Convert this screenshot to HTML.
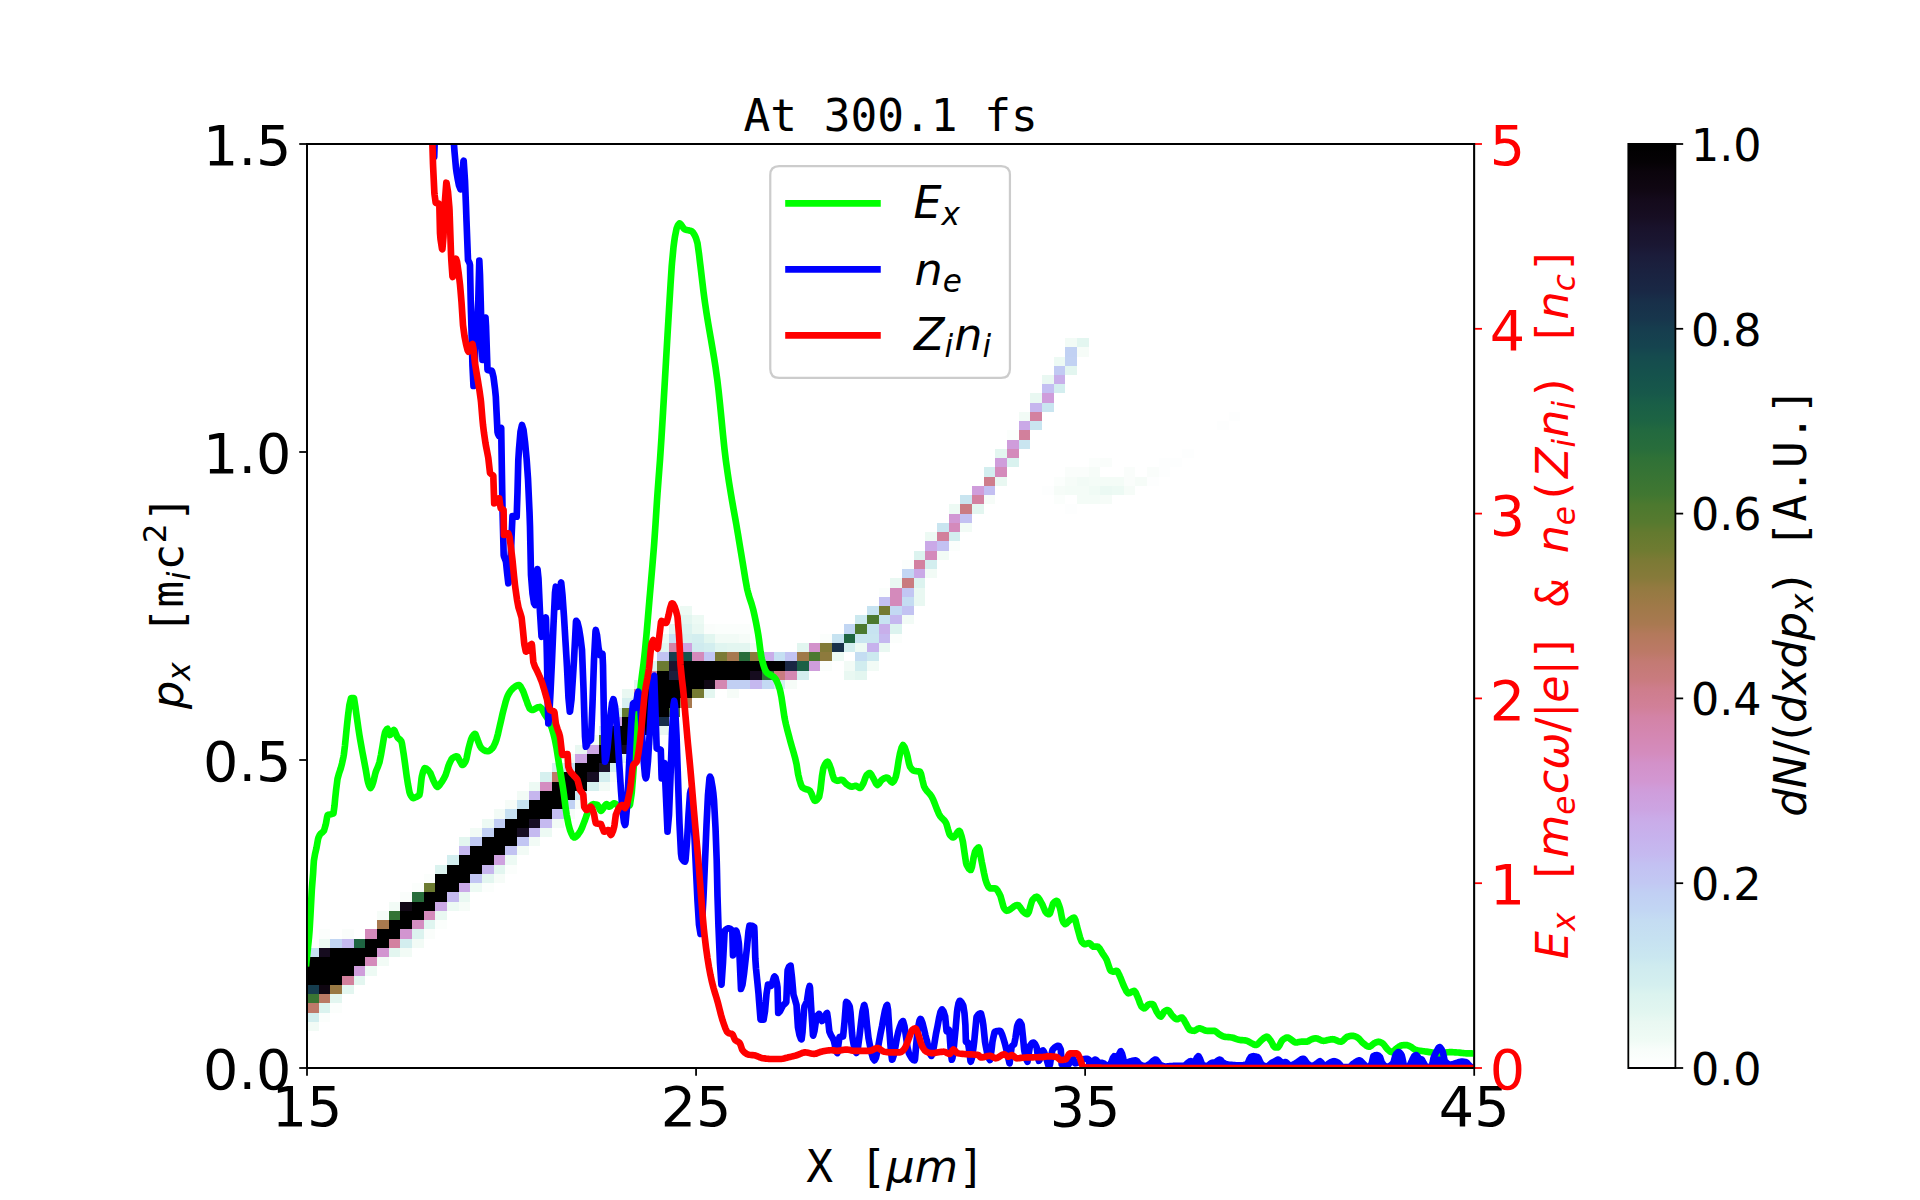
<!DOCTYPE html>
<html><head><meta charset="utf-8"><title>At 300.1 fs</title>
<style>html,body{margin:0;padding:0;background:#fff;}svg{display:block;}body{width:1920px;height:1200px;overflow:hidden;font-family:"DejaVu Sans","Liberation Sans",sans-serif;}</style>
</head><body>
<svg width="1920" height="1200" viewBox="0 0 864 540">
 <defs>
  <style type="text/css">*{stroke-linejoin: round; stroke-linecap: butt}</style>
 </defs>
 <g id="figure_1">
  <g id="patch_1">
   <path d="M 0 540 
L 864 540 
L 864 0 
L 0 0 
z
" style="fill: #ffffff"/>
  </g>
  <g id="axes_1">
   <g id="patch_2">
    <path d="M 138.15 480.6 
L 663.39 480.6 
L 663.39 64.8 
L 138.15 64.8 
z
" style="fill: #ffffff"/>
   </g>
   <g id="heatmap" transform="scale(0.45)" shape-rendering="crispEdges">
<rect x="307" y="1022" width="12" height="9" fill="#f2fbf6"/>
<rect x="307" y="1013" width="12" height="9" fill="#d3eeef"/>
<rect x="319" y="1013" width="11" height="9" fill="#fbfefc"/>
<rect x="307" y="1003" width="12" height="10" fill="#be796a"/>
<rect x="319" y="1003" width="11" height="10" fill="#dbf3ef"/>
<rect x="330" y="1003" width="12" height="10" fill="#fbfefc"/>
<rect x="307" y="994" width="12" height="9" fill="#3a7533"/>
<rect x="319" y="994" width="11" height="9" fill="#b97964"/>
<rect x="330" y="994" width="12" height="9" fill="#e3f6f0"/>
<rect x="307" y="985" width="12" height="9" fill="#163d4e"/>
<rect x="319" y="985" width="11" height="9" fill="#0f0611"/>
<rect x="330" y="985" width="12" height="9" fill="#997944"/>
<rect x="342" y="985" width="12" height="9" fill="#e3f6f0"/>
<rect x="307" y="976" width="35" height="9" fill="#000000"/>
<rect x="342" y="976" width="12" height="9" fill="#d2809c"/>
<rect x="354" y="976" width="11" height="9" fill="#e3f6f0"/>
<rect x="307" y="966" width="47" height="10" fill="#000000"/>
<rect x="354" y="966" width="11" height="10" fill="#cf9ddb"/>
<rect x="365" y="966" width="12" height="10" fill="#edfaf4"/>
<rect x="307" y="957" width="58" height="9" fill="#000000"/>
<rect x="365" y="957" width="12" height="9" fill="#d48abb"/>
<rect x="377" y="957" width="12" height="9" fill="#f2fbf6"/>
<rect x="307" y="948" width="12" height="9" fill="#c6e0f1"/>
<rect x="319" y="948" width="11" height="9" fill="#160c1f"/>
<rect x="330" y="948" width="47" height="9" fill="#000000"/>
<rect x="377" y="948" width="12" height="9" fill="#d295d0"/>
<rect x="389" y="948" width="11" height="9" fill="#e3f6f0"/>
<rect x="400" y="948" width="12" height="9" fill="#f2fbf6"/>
<rect x="319" y="939" width="11" height="9" fill="#edfaf4"/>
<rect x="330" y="939" width="12" height="9" fill="#c2d6f3"/>
<rect x="342" y="939" width="12" height="9" fill="#c5baf0"/>
<rect x="354" y="939" width="11" height="9" fill="#1e6542"/>
<rect x="365" y="939" width="24" height="9" fill="#000000"/>
<rect x="389" y="939" width="11" height="9" fill="#d381a0"/>
<rect x="400" y="939" width="12" height="9" fill="#d3eeef"/>
<rect x="412" y="939" width="12" height="9" fill="#f2fbf6"/>
<rect x="319" y="929" width="11" height="10" fill="#fbfefc"/>
<rect x="342" y="929" width="12" height="10" fill="#fafdfb"/>
<rect x="365" y="929" width="12" height="10" fill="#d48abb"/>
<rect x="377" y="929" width="23" height="10" fill="#000000"/>
<rect x="400" y="929" width="12" height="10" fill="#d295d0"/>
<rect x="412" y="929" width="12" height="10" fill="#dcf3ef"/>
<rect x="424" y="929" width="11" height="10" fill="#fafdfb"/>
<rect x="377" y="920" width="12" height="9" fill="#a7794f"/>
<rect x="389" y="920" width="23" height="9" fill="#000000"/>
<rect x="412" y="920" width="12" height="9" fill="#d48dc1"/>
<rect x="424" y="920" width="11" height="9" fill="#e0f5f0"/>
<rect x="435" y="920" width="12" height="9" fill="#fbfefc"/>
<rect x="377" y="911" width="12" height="9" fill="#f6fcf8"/>
<rect x="389" y="911" width="11" height="9" fill="#337335"/>
<rect x="400" y="911" width="24" height="9" fill="#000000"/>
<rect x="424" y="911" width="11" height="9" fill="#d48abb"/>
<rect x="435" y="911" width="12" height="9" fill="#e9f8f2"/>
<rect x="389" y="902" width="11" height="9" fill="#f2fbf6"/>
<rect x="400" y="902" width="12" height="9" fill="#110815"/>
<rect x="412" y="902" width="23" height="9" fill="#000000"/>
<rect x="435" y="902" width="12" height="9" fill="#cba8e5"/>
<rect x="447" y="902" width="12" height="9" fill="#edfaf4"/>
<rect x="459" y="902" width="11" height="9" fill="#f6fcf8"/>
<rect x="400" y="892" width="12" height="10" fill="#fafdfb"/>
<rect x="412" y="892" width="12" height="10" fill="#286d3b"/>
<rect x="424" y="892" width="23" height="10" fill="#000000"/>
<rect x="447" y="892" width="12" height="10" fill="#c5baf0"/>
<rect x="459" y="892" width="11" height="10" fill="#e9f8f2"/>
<rect x="412" y="883" width="12" height="9" fill="#fbfefc"/>
<rect x="424" y="883" width="11" height="9" fill="#6c7b31"/>
<rect x="435" y="883" width="24" height="9" fill="#000000"/>
<rect x="459" y="883" width="11" height="9" fill="#caa9e7"/>
<rect x="470" y="883" width="12" height="9" fill="#edfaf4"/>
<rect x="482" y="883" width="12" height="9" fill="#fbfefc"/>
<rect x="424" y="874" width="11" height="9" fill="#fbfefc"/>
<rect x="435" y="874" width="35" height="9" fill="#000000"/>
<rect x="470" y="874" width="12" height="9" fill="#c2c6f3"/>
<rect x="482" y="874" width="12" height="9" fill="#e3f6f0"/>
<rect x="494" y="874" width="11" height="9" fill="#f6fcf8"/>
<rect x="435" y="865" width="12" height="9" fill="#dbf3ef"/>
<rect x="447" y="865" width="35" height="9" fill="#000000"/>
<rect x="482" y="865" width="12" height="9" fill="#c6b6ee"/>
<rect x="494" y="865" width="11" height="9" fill="#e3f6f0"/>
<rect x="505" y="865" width="12" height="9" fill="#fbfefc"/>
<rect x="447" y="855" width="12" height="10" fill="#d3eeef"/>
<rect x="459" y="855" width="35" height="10" fill="#000000"/>
<rect x="494" y="855" width="11" height="10" fill="#cea1df"/>
<rect x="505" y="855" width="12" height="10" fill="#edfaf4"/>
<rect x="459" y="846" width="11" height="9" fill="#c5b8ef"/>
<rect x="470" y="846" width="35" height="9" fill="#000000"/>
<rect x="505" y="846" width="12" height="9" fill="#c2c3f2"/>
<rect x="517" y="846" width="12" height="9" fill="#f2fbf6"/>
<rect x="459" y="837" width="11" height="9" fill="#e3f6f0"/>
<rect x="470" y="837" width="12" height="9" fill="#c1caf3"/>
<rect x="482" y="837" width="35" height="9" fill="#000000"/>
<rect x="517" y="837" width="12" height="9" fill="#c2c6f3"/>
<rect x="529" y="837" width="11" height="9" fill="#f2fbf6"/>
<rect x="470" y="828" width="12" height="9" fill="#f2fbf6"/>
<rect x="482" y="828" width="12" height="9" fill="#c1cff3"/>
<rect x="494" y="828" width="23" height="9" fill="#000000"/>
<rect x="517" y="828" width="12" height="9" fill="#170e23"/>
<rect x="529" y="828" width="11" height="9" fill="#c5baf0"/>
<rect x="540" y="828" width="12" height="9" fill="#edfaf4"/>
<rect x="482" y="819" width="12" height="9" fill="#edfaf4"/>
<rect x="494" y="819" width="11" height="9" fill="#c1cdf3"/>
<rect x="505" y="819" width="24" height="9" fill="#000000"/>
<rect x="529" y="819" width="11" height="9" fill="#170e23"/>
<rect x="540" y="819" width="12" height="9" fill="#c5baf0"/>
<rect x="552" y="819" width="12" height="9" fill="#f2fbf6"/>
<rect x="494" y="809" width="11" height="10" fill="#f2fbf6"/>
<rect x="505" y="809" width="12" height="10" fill="#c6e0f1"/>
<rect x="517" y="809" width="35" height="10" fill="#000000"/>
<rect x="552" y="809" width="12" height="10" fill="#c4bdf1"/>
<rect x="564" y="809" width="11" height="10" fill="#f6fcf8"/>
<rect x="505" y="800" width="12" height="9" fill="#f6fcf8"/>
<rect x="517" y="800" width="12" height="9" fill="#c7e3f1"/>
<rect x="529" y="800" width="35" height="9" fill="#000000"/>
<rect x="564" y="800" width="11" height="9" fill="#c1d1f3"/>
<rect x="575" y="800" width="12" height="9" fill="#f6fcf8"/>
<rect x="517" y="791" width="12" height="9" fill="#f2fbf6"/>
<rect x="529" y="791" width="11" height="9" fill="#c6b6ee"/>
<rect x="540" y="791" width="35" height="9" fill="#000000"/>
<rect x="575" y="791" width="12" height="9" fill="#c9e5f0"/>
<rect x="529" y="782" width="11" height="9" fill="#edfaf4"/>
<rect x="540" y="782" width="12" height="9" fill="#d48dc1"/>
<rect x="552" y="782" width="35" height="9" fill="#000000"/>
<rect x="587" y="782" width="12" height="9" fill="#d6f0ef"/>
<rect x="599" y="782" width="11" height="9" fill="#f2fbf6"/>
<rect x="540" y="772" width="12" height="10" fill="#d6f0ef"/>
<rect x="552" y="772" width="12" height="10" fill="#be796a"/>
<rect x="564" y="772" width="23" height="10" fill="#000000"/>
<rect x="587" y="772" width="12" height="10" fill="#170e23"/>
<rect x="599" y="772" width="11" height="10" fill="#d3eeef"/>
<rect x="610" y="772" width="12" height="10" fill="#f6fcf8"/>
<rect x="552" y="763" width="12" height="9" fill="#d6f0ef"/>
<rect x="564" y="763" width="11" height="9" fill="#c5dff2"/>
<rect x="575" y="763" width="24" height="9" fill="#000000"/>
<rect x="599" y="763" width="11" height="9" fill="#19122b"/>
<rect x="610" y="763" width="12" height="9" fill="#d6f0ef"/>
<rect x="564" y="754" width="11" height="9" fill="#f2fbf6"/>
<rect x="575" y="754" width="12" height="9" fill="#cca4e2"/>
<rect x="587" y="754" width="35" height="9" fill="#000000"/>
<rect x="622" y="754" width="12" height="9" fill="#e3f6f0"/>
<rect x="575" y="745" width="12" height="9" fill="#e9f8f2"/>
<rect x="587" y="745" width="12" height="9" fill="#cca6e4"/>
<rect x="599" y="745" width="23" height="9" fill="#000000"/>
<rect x="622" y="745" width="12" height="9" fill="#160c1f"/>
<rect x="634" y="745" width="11" height="9" fill="#e3f6f0"/>
<rect x="587" y="735" width="12" height="10" fill="#f2fbf6"/>
<rect x="599" y="735" width="11" height="10" fill="#54792f"/>
<rect x="610" y="735" width="35" height="10" fill="#000000"/>
<rect x="645" y="735" width="12" height="10" fill="#e9f8f2"/>
<rect x="599" y="726" width="11" height="9" fill="#d3eeef"/>
<rect x="610" y="726" width="47" height="9" fill="#000000"/>
<rect x="657" y="726" width="12" height="9" fill="#e9f8f2"/>
<rect x="610" y="717" width="12" height="9" fill="#cea1df"/>
<rect x="622" y="717" width="35" height="9" fill="#000000"/>
<rect x="657" y="717" width="12" height="9" fill="#182f49"/>
<rect x="610" y="708" width="12" height="9" fill="#d6f0ef"/>
<rect x="622" y="708" width="12" height="9" fill="#637a2f"/>
<rect x="634" y="708" width="35" height="9" fill="#000000"/>
<rect x="669" y="708" width="11" height="9" fill="#54792f"/>
<rect x="622" y="698" width="12" height="10" fill="#d6f0ef"/>
<rect x="634" y="698" width="11" height="10" fill="#cf9ddb"/>
<rect x="645" y="698" width="35" height="10" fill="#000000"/>
<rect x="680" y="698" width="12" height="10" fill="#a7794f"/>
<rect x="622" y="689" width="12" height="9" fill="#e9f8f2"/>
<rect x="634" y="689" width="11" height="9" fill="#d382a3"/>
<rect x="645" y="689" width="47" height="9" fill="#000000"/>
<rect x="692" y="689" width="12" height="9" fill="#757b33"/>
<rect x="704" y="689" width="11" height="9" fill="#e3f6f0"/>
<rect x="727" y="689" width="12" height="9" fill="#f6fcf8"/>
<rect x="634" y="680" width="11" height="9" fill="#e0f5f0"/>
<rect x="645" y="680" width="12" height="9" fill="#163d4e"/>
<rect x="657" y="680" width="47" height="9" fill="#000000"/>
<rect x="704" y="680" width="11" height="9" fill="#110815"/>
<rect x="715" y="680" width="12" height="9" fill="#d487b2"/>
<rect x="727" y="680" width="23" height="9" fill="#c1cff3"/>
<rect x="750" y="680" width="12" height="9" fill="#c5b8ef"/>
<rect x="762" y="680" width="12" height="9" fill="#c3d9f3"/>
<rect x="774" y="680" width="11" height="9" fill="#d3eeef"/>
<rect x="785" y="680" width="12" height="9" fill="#f6fcf8"/>
<rect x="645" y="671" width="12" height="9" fill="#d382a3"/>
<rect x="657" y="671" width="12" height="9" fill="#000000"/>
<rect x="669" y="671" width="11" height="9" fill="#1b1f3d"/>
<rect x="680" y="671" width="70" height="9" fill="#000000"/>
<rect x="750" y="671" width="12" height="9" fill="#160c1f"/>
<rect x="762" y="671" width="12" height="9" fill="#2f7137"/>
<rect x="774" y="671" width="11" height="9" fill="#c97b7f"/>
<rect x="785" y="671" width="12" height="9" fill="#d487b2"/>
<rect x="797" y="671" width="12" height="9" fill="#d3eeef"/>
<rect x="844" y="671" width="11" height="9" fill="#e9f8f2"/>
<rect x="855" y="671" width="12" height="9" fill="#e3f6f0"/>
<rect x="645" y="661" width="12" height="10" fill="#dbf3ef"/>
<rect x="657" y="661" width="12" height="10" fill="#6c7b31"/>
<rect x="669" y="661" width="11" height="10" fill="#1a142f"/>
<rect x="680" y="661" width="105" height="10" fill="#000000"/>
<rect x="785" y="661" width="12" height="10" fill="#1a2744"/>
<rect x="797" y="661" width="12" height="10" fill="#1a6046"/>
<rect x="809" y="661" width="11" height="10" fill="#cf9ddb"/>
<rect x="820" y="661" width="12" height="10" fill="#fafdfb"/>
<rect x="844" y="661" width="11" height="10" fill="#f2fbf6"/>
<rect x="855" y="661" width="12" height="10" fill="#d1edef"/>
<rect x="867" y="661" width="12" height="10" fill="#f2fbf6"/>
<rect x="657" y="652" width="12" height="9" fill="#c2c3f2"/>
<rect x="669" y="652" width="11" height="9" fill="#163d4e"/>
<rect x="680" y="652" width="12" height="9" fill="#15524c"/>
<rect x="692" y="652" width="12" height="9" fill="#d48abb"/>
<rect x="704" y="652" width="11" height="9" fill="#c2c6f3"/>
<rect x="715" y="652" width="12" height="9" fill="#7b7a35"/>
<rect x="727" y="652" width="12" height="9" fill="#a7794f"/>
<rect x="739" y="652" width="11" height="9" fill="#286d3b"/>
<rect x="750" y="652" width="12" height="9" fill="#8a7a3b"/>
<rect x="762" y="652" width="12" height="9" fill="#c9ade9"/>
<rect x="774" y="652" width="11" height="9" fill="#c5dff2"/>
<rect x="785" y="652" width="12" height="9" fill="#c2c3f2"/>
<rect x="797" y="652" width="12" height="9" fill="#9f7948"/>
<rect x="809" y="652" width="11" height="9" fill="#4c792f"/>
<rect x="820" y="652" width="12" height="9" fill="#8d7a3d"/>
<rect x="832" y="652" width="12" height="9" fill="#edfaf4"/>
<rect x="855" y="652" width="12" height="9" fill="#c4ddf2"/>
<rect x="867" y="652" width="12" height="9" fill="#cce9ef"/>
<rect x="657" y="643" width="12" height="9" fill="#e0f5f0"/>
<rect x="669" y="643" width="11" height="9" fill="#d383a6"/>
<rect x="680" y="643" width="12" height="9" fill="#cea1df"/>
<rect x="692" y="643" width="12" height="9" fill="#cfebef"/>
<rect x="704" y="643" width="11" height="9" fill="#d3eeef"/>
<rect x="715" y="643" width="12" height="9" fill="#e0f5f0"/>
<rect x="727" y="643" width="23" height="9" fill="#e3f6f0"/>
<rect x="750" y="643" width="12" height="9" fill="#f2fbf6"/>
<rect x="797" y="643" width="12" height="9" fill="#e2f6f0"/>
<rect x="809" y="643" width="11" height="9" fill="#d392cb"/>
<rect x="820" y="643" width="12" height="9" fill="#817a37"/>
<rect x="832" y="643" width="12" height="9" fill="#18314a"/>
<rect x="844" y="643" width="11" height="9" fill="#d3eeef"/>
<rect x="855" y="643" width="12" height="9" fill="#edfaf4"/>
<rect x="867" y="643" width="12" height="9" fill="#c7b2ed"/>
<rect x="879" y="643" width="11" height="9" fill="#e9f8f2"/>
<rect x="657" y="634" width="12" height="9" fill="#edfaf4"/>
<rect x="669" y="634" width="11" height="9" fill="#c5dff2"/>
<rect x="680" y="634" width="12" height="9" fill="#d6f0ef"/>
<rect x="692" y="634" width="12" height="9" fill="#d3eeef"/>
<rect x="704" y="634" width="11" height="9" fill="#e2f6f0"/>
<rect x="715" y="634" width="24" height="9" fill="#f2fbf6"/>
<rect x="739" y="634" width="11" height="9" fill="#f6fcf8"/>
<rect x="820" y="634" width="12" height="9" fill="#fbfefc"/>
<rect x="832" y="634" width="12" height="9" fill="#c7e3f1"/>
<rect x="844" y="634" width="11" height="9" fill="#1e6542"/>
<rect x="855" y="634" width="24" height="9" fill="#c9e5f0"/>
<rect x="879" y="634" width="11" height="9" fill="#c5b8ef"/>
<rect x="890" y="634" width="12" height="9" fill="#fbfefc"/>
<rect x="669" y="624" width="11" height="10" fill="#e0f5f0"/>
<rect x="680" y="624" width="12" height="10" fill="#dbf3ef"/>
<rect x="692" y="624" width="12" height="10" fill="#e9f8f2"/>
<rect x="704" y="624" width="11" height="10" fill="#fafdfb"/>
<rect x="715" y="624" width="35" height="10" fill="#fbfefc"/>
<rect x="844" y="624" width="11" height="10" fill="#c2d6f3"/>
<rect x="855" y="624" width="12" height="10" fill="#4c792f"/>
<rect x="867" y="624" width="12" height="10" fill="#c7e3f1"/>
<rect x="879" y="624" width="11" height="10" fill="#c8afea"/>
<rect x="890" y="624" width="12" height="10" fill="#dcf3ef"/>
<rect x="680" y="615" width="12" height="9" fill="#e3f6f0"/>
<rect x="692" y="615" width="12" height="9" fill="#edfaf4"/>
<rect x="855" y="615" width="12" height="9" fill="#cce9ef"/>
<rect x="867" y="615" width="12" height="9" fill="#4c792f"/>
<rect x="879" y="615" width="11" height="9" fill="#c7e3f1"/>
<rect x="890" y="615" width="12" height="9" fill="#c5b8ef"/>
<rect x="902" y="615" width="12" height="9" fill="#f2fbf6"/>
<rect x="680" y="606" width="12" height="9" fill="#edfaf4"/>
<rect x="867" y="606" width="12" height="9" fill="#c7e3f1"/>
<rect x="879" y="606" width="11" height="9" fill="#757b33"/>
<rect x="890" y="606" width="12" height="9" fill="#c3d9f3"/>
<rect x="902" y="606" width="12" height="9" fill="#c2c3f2"/>
<rect x="879" y="597" width="11" height="9" fill="#c3c1f2"/>
<rect x="890" y="597" width="12" height="9" fill="#d48abb"/>
<rect x="902" y="597" width="12" height="9" fill="#c4dcf2"/>
<rect x="914" y="597" width="11" height="9" fill="#e9f8f2"/>
<rect x="879" y="588" width="11" height="9" fill="#fbfefc"/>
<rect x="890" y="588" width="12" height="9" fill="#d48abb"/>
<rect x="902" y="588" width="12" height="9" fill="#c2c6f3"/>
<rect x="914" y="588" width="11" height="9" fill="#e9f8f2"/>
<rect x="890" y="578" width="12" height="10" fill="#e9f8f2"/>
<rect x="902" y="578" width="12" height="10" fill="#c97b7f"/>
<rect x="914" y="578" width="11" height="10" fill="#dcf3ef"/>
<rect x="902" y="569" width="12" height="9" fill="#c2d6f3"/>
<rect x="914" y="569" width="11" height="9" fill="#caa9e7"/>
<rect x="925" y="569" width="12" height="9" fill="#f2fbf6"/>
<rect x="902" y="560" width="12" height="9" fill="#fbfefc"/>
<rect x="914" y="560" width="11" height="9" fill="#d381a0"/>
<rect x="925" y="560" width="12" height="9" fill="#d3eeef"/>
<rect x="914" y="551" width="11" height="9" fill="#dcf3ef"/>
<rect x="925" y="551" width="12" height="9" fill="#d48abb"/>
<rect x="937" y="551" width="12" height="9" fill="#f2fbf6"/>
<rect x="925" y="541" width="12" height="10" fill="#caa9e7"/>
<rect x="937" y="541" width="12" height="10" fill="#c3c1f2"/>
<rect x="949" y="541" width="11" height="10" fill="#fbfefc"/>
<rect x="925" y="532" width="12" height="9" fill="#edfaf4"/>
<rect x="937" y="532" width="12" height="9" fill="#d2809c"/>
<rect x="949" y="532" width="11" height="9" fill="#d3eeef"/>
<rect x="937" y="523" width="12" height="9" fill="#c9e5f0"/>
<rect x="949" y="523" width="11" height="9" fill="#d48abb"/>
<rect x="960" y="523" width="12" height="9" fill="#f2fbf6"/>
<rect x="949" y="514" width="11" height="9" fill="#d198d4"/>
<rect x="960" y="514" width="12" height="9" fill="#c3c1f2"/>
<rect x="949" y="504" width="11" height="10" fill="#edfaf4"/>
<rect x="960" y="504" width="12" height="10" fill="#ca7c83"/>
<rect x="972" y="504" width="12" height="10" fill="#e3f6f0"/>
<rect x="1065" y="504" width="12" height="10" fill="#fdfefe"/>
<rect x="960" y="495" width="12" height="9" fill="#c9e5f0"/>
<rect x="972" y="495" width="12" height="9" fill="#d381a0"/>
<rect x="984" y="495" width="11" height="9" fill="#f6fcf8"/>
<rect x="1054" y="495" width="11" height="9" fill="#fbfefc"/>
<rect x="1077" y="495" width="23" height="9" fill="#f4fcf7"/>
<rect x="1100" y="495" width="12" height="9" fill="#f6fcf8"/>
<rect x="972" y="486" width="12" height="9" fill="#cf9ddb"/>
<rect x="984" y="486" width="11" height="9" fill="#c3bff2"/>
<rect x="1042" y="486" width="12" height="9" fill="#fdfefe"/>
<rect x="1054" y="486" width="11" height="9" fill="#f6fcf8"/>
<rect x="1065" y="486" width="24" height="9" fill="#f4fcf7"/>
<rect x="1089" y="486" width="11" height="9" fill="#f0fbf5"/>
<rect x="1100" y="486" width="12" height="9" fill="#ebf9f3"/>
<rect x="1112" y="486" width="12" height="9" fill="#edfaf4"/>
<rect x="1124" y="486" width="11" height="9" fill="#f6fcf8"/>
<rect x="984" y="477" width="11" height="9" fill="#ce7d8c"/>
<rect x="995" y="477" width="12" height="9" fill="#e9f8f2"/>
<rect x="1054" y="477" width="11" height="9" fill="#fbfefc"/>
<rect x="1065" y="477" width="12" height="9" fill="#f6fcf8"/>
<rect x="1077" y="477" width="12" height="9" fill="#f2fbf6"/>
<rect x="1089" y="477" width="35" height="9" fill="#f4fcf7"/>
<rect x="1124" y="477" width="11" height="9" fill="#fafdfb"/>
<rect x="1135" y="477" width="12" height="9" fill="#f6fcf8"/>
<rect x="1147" y="477" width="12" height="9" fill="#fdfefe"/>
<rect x="984" y="467" width="11" height="10" fill="#d3eeef"/>
<rect x="995" y="467" width="12" height="10" fill="#d48abb"/>
<rect x="1065" y="467" width="24" height="10" fill="#fafdfb"/>
<rect x="1089" y="467" width="11" height="10" fill="#f6fcf8"/>
<rect x="1124" y="467" width="11" height="10" fill="#fafdfb"/>
<rect x="1147" y="467" width="12" height="10" fill="#fafdfb"/>
<rect x="1159" y="467" width="11" height="10" fill="#fdfefe"/>
<rect x="995" y="458" width="12" height="9" fill="#cf9ddb"/>
<rect x="1007" y="458" width="12" height="9" fill="#d9f2ef"/>
<rect x="1089" y="458" width="11" height="9" fill="#fbfefc"/>
<rect x="1100" y="458" width="12" height="9" fill="#fafdfb"/>
<rect x="1159" y="458" width="23" height="9" fill="#fdfefe"/>
<rect x="995" y="449" width="12" height="9" fill="#e3f6f0"/>
<rect x="1007" y="449" width="12" height="9" fill="#d48abb"/>
<rect x="1182" y="449" width="12" height="9" fill="#fdfefe"/>
<rect x="1007" y="440" width="12" height="9" fill="#cf9ddb"/>
<rect x="1019" y="440" width="11" height="9" fill="#c9e5f0"/>
<rect x="1007" y="430" width="12" height="10" fill="#fbfefc"/>
<rect x="1019" y="430" width="11" height="10" fill="#d2809c"/>
<rect x="1019" y="421" width="11" height="9" fill="#caa9e7"/>
<rect x="1030" y="421" width="12" height="9" fill="#c9e5f0"/>
<rect x="1217" y="421" width="12" height="9" fill="#fdfefe"/>
<rect x="1019" y="412" width="11" height="9" fill="#f2fbf6"/>
<rect x="1030" y="412" width="12" height="9" fill="#d381a0"/>
<rect x="1229" y="412" width="11" height="9" fill="#fdfefe"/>
<rect x="1030" y="403" width="12" height="9" fill="#c6b6ee"/>
<rect x="1042" y="403" width="12" height="9" fill="#c9e5f0"/>
<rect x="1030" y="393" width="12" height="10" fill="#e9f8f2"/>
<rect x="1042" y="393" width="12" height="10" fill="#cf9ddb"/>
<rect x="1042" y="384" width="12" height="9" fill="#c3bff2"/>
<rect x="1054" y="384" width="11" height="9" fill="#d3eeef"/>
<rect x="1042" y="375" width="12" height="9" fill="#e9f8f2"/>
<rect x="1054" y="375" width="11" height="9" fill="#c8afea"/>
<rect x="1054" y="366" width="11" height="9" fill="#c1caf3"/>
<rect x="1065" y="366" width="12" height="9" fill="#e3f6f0"/>
<rect x="1054" y="357" width="11" height="9" fill="#edfaf4"/>
<rect x="1065" y="357" width="12" height="9" fill="#c2d2f3"/>
<rect x="1065" y="347" width="12" height="10" fill="#c1d1f3"/>
<rect x="1077" y="347" width="12" height="10" fill="#f6fcf8"/>
<rect x="1065" y="338" width="12" height="9" fill="#f2fbf6"/>
<rect x="1077" y="338" width="12" height="9" fill="#e3f6f0"/>
</g>
<g id="matplotlib.axis_1">
    <g id="xtick_1">
     <g id="line2d_1">
      <defs>
       <path id="m85831173c3" d="M 0 0 
L 0 3.5 
" style="stroke: #000000; stroke-width: 0.8"/>
      </defs>
      <g>
       <use href="#m85831173c3" x="138.15" y="480.6" style="stroke: #000000; stroke-width: 0.8"/>
      </g>
     </g>
     <g id="text_1">
      <text style="font-size: 25px; font-family: 'DejaVu Sans', sans-serif; text-anchor: middle" x="138.15" y="506.60" transform="rotate(-0 138.15 506.60)">15</text>
     </g>
    </g>
    <g id="xtick_2">
     <g id="line2d_2">
      <g>
       <use href="#m85831173c3" x="313.23" y="480.6" style="stroke: #000000; stroke-width: 0.8"/>
      </g>
     </g>
     <g id="text_2">
      <text style="font-size: 25px; font-family: 'DejaVu Sans', sans-serif; text-anchor: middle" x="313.23" y="506.60" transform="rotate(-0 313.23 506.60)">25</text>
     </g>
    </g>
    <g id="xtick_3">
     <g id="line2d_3">
      <g>
       <use href="#m85831173c3" x="488.31" y="480.6" style="stroke: #000000; stroke-width: 0.8"/>
      </g>
     </g>
     <g id="text_3">
      <text style="font-size: 25px; font-family: 'DejaVu Sans', sans-serif; text-anchor: middle" x="488.31" y="506.60" transform="rotate(-0 488.31 506.60)">35</text>
     </g>
    </g>
    <g id="xtick_4">
     <g id="line2d_4">
      <g>
       <use href="#m85831173c3" x="663.39" y="480.6" style="stroke: #000000; stroke-width: 0.8"/>
      </g>
     </g>
     <g id="text_4">
      <text style="font-size: 25px; font-family: 'DejaVu Sans', sans-serif; text-anchor: middle" x="663.39" y="506.60" transform="rotate(-0 663.39 506.60)">45</text>
     </g>
    </g>
    <g id="text_5">
     <g transform="translate(362.82 532.86)">
      <text>
       <tspan x="0" y="-0.80" style="font-size: 20px; font-family: 'DejaVu Sans Mono', monospace">X</tspan>
       <tspan x="12.04" y="-0.80" style="font-size: 20px; font-family: 'DejaVu Sans Mono', monospace"> </tspan>
       <tspan x="24.08" y="-0.80" style="font-size: 20px; font-family: 'DejaVu Sans Mono', monospace">[</tspan>
       <tspan x="68.33" y="-0.80" style="font-size: 20px; font-family: 'DejaVu Sans Mono', monospace">]</tspan>
       <tspan x="36.12" y="-0.80" style="font-style: oblique; font-size: 20px; font-family: 'DejaVu Sans', sans-serif">μ</tspan>
       <tspan x="48.85" y="-0.80" style="font-style: oblique; font-size: 20px; font-family: 'DejaVu Sans', sans-serif">m</tspan>
      </text>
     </g>
    </g>
   </g>
   <g id="matplotlib.axis_2">
    <g id="ytick_1">
     <g id="line2d_5">
      <defs>
       <path id="mb363b9d5d3" d="M 0 0 
L -3.5 0 
" style="stroke: #000000; stroke-width: 0.8"/>
      </defs>
      <g>
       <use href="#mb363b9d5d3" x="138.15" y="480.6" style="stroke: #000000; stroke-width: 0.8"/>
      </g>
     </g>
     <g id="text_6">
      <text style="font-size: 25px; font-family: 'DejaVu Sans', sans-serif; text-anchor: end" x="131.15" y="490.10" transform="rotate(-0 131.15 490.10)">0.0</text>
     </g>
    </g>
    <g id="ytick_2">
     <g id="line2d_6">
      <g>
       <use href="#mb363b9d5d3" x="138.15" y="342" style="stroke: #000000; stroke-width: 0.8"/>
      </g>
     </g>
     <g id="text_7">
      <text style="font-size: 25px; font-family: 'DejaVu Sans', sans-serif; text-anchor: end" x="131.15" y="351.50" transform="rotate(-0 131.15 351.50)">0.5</text>
     </g>
    </g>
    <g id="ytick_3">
     <g id="line2d_7">
      <g>
       <use href="#mb363b9d5d3" x="138.15" y="203.4" style="stroke: #000000; stroke-width: 0.8"/>
      </g>
     </g>
     <g id="text_8">
      <text style="font-size: 25px; font-family: 'DejaVu Sans', sans-serif; text-anchor: end" x="131.15" y="212.90" transform="rotate(-0 131.15 212.90)">1.0</text>
     </g>
    </g>
    <g id="ytick_4">
     <g id="line2d_8">
      <g>
       <use href="#mb363b9d5d3" x="138.15" y="64.8" style="stroke: #000000; stroke-width: 0.8"/>
      </g>
     </g>
     <g id="text_9">
      <text style="font-size: 25px; font-family: 'DejaVu Sans', sans-serif; text-anchor: end" x="131.15" y="74.30" transform="rotate(-0 131.15 74.30)">1.5</text>
     </g>
    </g>
    <g id="text_10">
     <g transform="translate(83.19 319.00) rotate(-90)">
      <text>
       <tspan x="0" y="-0.95" style="font-style: oblique; font-size: 20px; font-family: 'DejaVu Sans', sans-serif">p</tspan>
       <tspan x="12.70" y="2.33" style="font-style: oblique; font-size: 14px; font-family: 'DejaVu Sans', sans-serif">x</tspan>
       <tspan x="57.84" y="2.33" style="font-style: oblique; font-size: 14px; font-family: 'DejaVu Sans', sans-serif">i</tspan>
       <tspan x="21.53" y="-0.95" style="font-size: 20px; font-family: 'DejaVu Sans Mono', monospace"> </tspan>
       <tspan x="33.57" y="-0.95" style="font-size: 20px; font-family: 'DejaVu Sans Mono', monospace">[</tspan>
       <tspan x="45.61" y="-0.95" style="font-size: 20px; font-family: 'DejaVu Sans Mono', monospace">m</tspan>
       <tspan x="62.28" y="-0.95" style="font-size: 20px; font-family: 'DejaVu Sans Mono', monospace">c</tspan>
       <tspan x="83.96" y="-0.95" style="font-size: 20px; font-family: 'DejaVu Sans Mono', monospace">]</tspan>
       <tspan x="74.51" y="-8.61" style="font-size: 14px; font-family: 'DejaVu Sans', sans-serif">2</tspan>
      </text>
     </g>
    </g>
   </g>
   <g id="patch_3">
    <path d="M 138.15 480.6 
L 138.15 64.8 
" style="fill: none; stroke: #000000; stroke-width: 0.8; stroke-linejoin: miter; stroke-linecap: square"/>
   </g>
   <g id="patch_4">
    <path d="M 663.39 480.6 
L 663.39 64.8 
" style="fill: none; stroke: #000000; stroke-width: 0.8; stroke-linejoin: miter; stroke-linecap: square"/>
   </g>
   <g id="patch_5">
    <path d="M 138.15 480.6 
L 663.39 480.6 
" style="fill: none; stroke: #000000; stroke-width: 0.8; stroke-linejoin: miter; stroke-linecap: square"/>
   </g>
   <g id="patch_6">
    <path d="M 138.15 64.8 
L 663.39 64.8 
" style="fill: none; stroke: #000000; stroke-width: 0.8; stroke-linejoin: miter; stroke-linecap: square"/>
   </g>
   <g id="text_11">
    <text style="font-size: 20px; font-family: 'DejaVu Sans Mono', monospace; text-anchor: middle" x="400.77" y="58.8" transform="rotate(-0 400.77 58.8)">At 300.1 fs</text>
   </g>
  </g>
  <g id="axes_2">
   <g id="FillBetweenPolyCollection_1">
    <defs>
     <path id="m66f0ff7009" d="M 488.7 -63.55 
L 488.7 -59.4 
L 489.38 -59.4 
L 490.05 -59.4 
L 490.73 -59.4 
L 491.26 -59.4 
L 491.4 -59.4 
L 492.07 -59.4 
L 492.75 -59.4 
L 492.93 -59.4 
L 493.43 -59.4 
L 494.1 -59.4 
L 494.64 -59.4 
L 494.77 -59.4 
L 495.45 -59.4 
L 496.12 -59.4 
L 496.8 -59.4 
L 497.48 -59.4 
L 498.01 -59.4 
L 498.15 -59.4 
L 498.82 -59.4 
L 499.5 -59.4 
L 500.18 -59.4 
L 500.85 -59.4 
L 501.39 -59.4 
L 501.52 -59.4 
L 502.2 -59.4 
L 502.88 -59.4 
L 503.55 -59.4 
L 504.23 -59.4 
L 504.36 -59.4 
L 504.9 -59.4 
L 505.57 -59.4 
L 505.89 -59.4 
L 506.25 -59.4 
L 506.61 -59.4 
L 506.93 -59.4 
L 507.6 -59.4 
L 508.27 -59.4 
L 508.86 -59.4 
L 508.95 -59.4 
L 509.62 -59.4 
L 510.3 -59.4 
L 510.98 -59.4 
L 511.11 -59.4 
L 511.65 -59.4 
L 512.33 -59.4 
L 513 -59.4 
L 513.67 -59.4 
L 514.35 -59.4 
L 515.02 -59.4 
L 515.25 -59.4 
L 515.7 -59.4 
L 516.38 -59.4 
L 517.05 -59.4 
L 517.5 -59.4 
L 517.73 -59.4 
L 518.4 -59.4 
L 519.08 -59.4 
L 519.75 -59.4 
L 519.98 -59.4 
L 520.42 -59.4 
L 521.1 -59.4 
L 521.77 -59.4 
L 522 -59.4 
L 522.45 -59.4 
L 523.12 -59.4 
L 523.8 -59.4 
L 524.25 -59.4 
L 524.48 -59.4 
L 525.15 -59.4 
L 525.83 -59.4 
L 526.5 -59.4 
L 527.17 -59.4 
L 527.85 -59.4 
L 527.99 -59.4 
L 528.52 -59.4 
L 529.2 -59.4 
L 529.88 -59.4 
L 530.55 -59.4 
L 531.23 -59.4 
L 531.9 -59.4 
L 532.49 -59.4 
L 532.58 -59.4 
L 533.25 -59.4 
L 533.92 -59.4 
L 534.6 -59.4 
L 535.27 -59.4 
L 535.86 -59.4 
L 535.95 -59.4 
L 536.62 -59.4 
L 537.3 -59.4 
L 537.39 -59.4 
L 537.98 -59.4 
L 538.65 -59.4 
L 539.24 -59.4 
L 539.33 -59.4 
L 540 -59.4 
L 540.67 -59.4 
L 541.12 -59.4 
L 541.35 -59.4 
L 542.02 -59.4 
L 542.7 -59.4 
L 543.01 -59.4 
L 543.38 -59.4 
L 544.05 -59.4 
L 544.73 -59.4 
L 545.26 -59.4 
L 545.4 -59.4 
L 546.08 -59.4 
L 546.75 -59.4 
L 547.11 -59.4 
L 547.42 -59.4 
L 548.1 -59.4 
L 548.77 -59.4 
L 548.87 -59.4 
L 549.45 -59.4 
L 550.12 -59.4 
L 550.49 -59.4 
L 550.8 -59.4 
L 551.48 -59.4 
L 552.15 -59.4 
L 552.74 -59.4 
L 552.83 -59.4 
L 553.5 -59.4 
L 554.17 -59.4 
L 554.85 -59.4 
L 555.52 -59.4 
L 556.2 -59.4 
L 556.88 -59.4 
L 557.55 -59.4 
L 558 -59.4 
L 558.23 -59.4 
L 558.9 -59.4 
L 559.58 -59.4 
L 560.25 -59.4 
L 560.92 -59.4 
L 561.01 -59.4 
L 561.6 -59.4 
L 562.27 -59.4 
L 562.86 -59.4 
L 562.95 -59.4 
L 563.62 -59.4 
L 563.99 -59.4 
L 564.3 -59.4 
L 564.98 -59.4 
L 565.65 -59.4 
L 565.88 -59.4 
L 566.33 -59.4 
L 567 -59.4 
L 567.67 -59.4 
L 567.76 -59.4 
L 568.35 -59.4 
L 569.02 -59.4 
L 569.7 -59.4 
L 570.01 -59.4 
L 570.38 -59.4 
L 571.05 -59.4 
L 571.73 -59.4 
L 572.26 -59.4 
L 572.4 -59.4 
L 573.08 -59.4 
L 573.75 -59.4 
L 574.42 -59.4 
L 575.1 -59.4 
L 575.24 -59.4 
L 575.77 -59.4 
L 576.45 -59.4 
L 576.76 -59.4 
L 577.12 -59.4 
L 577.8 -59.4 
L 578.48 -59.4 
L 578.61 -59.4 
L 579.15 -59.4 
L 579.83 -59.4 
L 580.14 -59.4 
L 580.5 -59.4 
L 581.17 -59.4 
L 581.85 -59.4 
L 581.99 -59.4 
L 582.52 -59.4 
L 583.2 -59.4 
L 583.88 -59.4 
L 584.55 -59.4 
L 585.23 -59.4 
L 585.9 -59.4 
L 586.49 -59.4 
L 586.58 -59.4 
L 587.25 -59.4 
L 587.92 -59.4 
L 588.38 -59.4 
L 588.6 -59.4 
L 589.27 -59.4 
L 589.95 -59.4 
L 590.26 -59.4 
L 590.62 -59.4 
L 591.3 -59.4 
L 591.98 -59.4 
L 592.51 -59.4 
L 592.65 -59.4 
L 593.33 -59.4 
L 594 -59.4 
L 594.67 -59.4 
L 595.35 -59.4 
L 596.02 -59.4 
L 596.25 -59.4 
L 596.7 -59.4 
L 597.38 -59.4 
L 597.74 -59.4 
L 598.05 -59.4 
L 598.73 -59.4 
L 599.4 -59.4 
L 600.08 -59.4 
L 600.39 -59.4 
L 600.75 -59.4 
L 601.42 -59.4 
L 602.1 -59.4 
L 602.24 -59.4 
L 602.77 -59.4 
L 603.45 -59.4 
L 604.12 -59.4 
L 604.8 -59.4 
L 605.48 -59.4 
L 606.15 -59.4 
L 606.83 -59.4 
L 607.14 -59.4 
L 607.5 -59.4 
L 608.17 -59.4 
L 608.85 -59.4 
L 608.99 -59.4 
L 609.52 -59.4 
L 610.2 -59.4 
L 610.88 -59.4 
L 611.55 -59.4 
L 611.82 -59.4 
L 612.23 -59.4 
L 612.9 -59.4 
L 613.49 -59.4 
L 613.58 -59.4 
L 614.25 -59.4 
L 614.92 -59.4 
L 615.38 -59.4 
L 615.6 -59.4 
L 616.27 -59.4 
L 616.95 -59.4 
L 617.26 -59.4 
L 617.62 -59.4 
L 617.99 -59.4 
L 618.3 -59.4 
L 618.98 -59.4 
L 619.65 -59.4 
L 619.70 -59.4 
L 620.33 -59.4 
L 621 -59.4 
L 621.67 -59.4 
L 621.76 -59.4 
L 622.35 -59.4 
L 623.02 -59.4 
L 623.7 -59.4 
L 624.01 -59.4 
L 624.38 -59.4 
L 625.05 -59.4 
L 625.73 -59.4 
L 626.4 -59.4 
L 626.99 -59.4 
L 627.08 -59.4 
L 627.75 -59.4 
L 628.11 -59.4 
L 628.42 -59.4 
L 629.1 -59.4 
L 629.46 -59.4 
L 629.77 -59.4 
L 630.45 -59.4 
L 630.76 -59.4 
L 631.12 -59.4 
L 631.8 -59.4 
L 631.89 -59.4 
L 632.48 -59.4 
L 633.15 -59.4 
L 633.74 -59.4 
L 633.83 -59.4 
L 634.5 -59.4 
L 635.17 -59.4 
L 635.26 -59.4 
L 635.85 -59.4 
L 636.39 -59.4 
L 636.52 -59.4 
L 637.2 -59.4 
L 637.34 -59.4 
L 637.88 -59.4 
L 638.55 -59.4 
L 638.64 -59.4 
L 639.23 -59.4 
L 639.76 -59.4 
L 639.9 -59.4 
L 640.58 -59.4 
L 641.25 -59.4 
L 641.92 -59.4 
L 642.6 -59.4 
L 642.74 -59.4 
L 643.27 -59.4 
L 643.95 -59.4 
L 644.26 -59.4 
L 644.62 -59.4 
L 644.99 -59.4 
L 645.3 -59.4 
L 645.98 -59.4 
L 646.51 -59.4 
L 646.65 -59.4 
L 647.33 -59.4 
L 647.82 -59.4 
L 648 -59.4 
L 648.67 -59.4 
L 649.12 -59.4 
L 649.35 -59.4 
L 650.02 -59.4 
L 650.25 -59.4 
L 650.7 -59.4 
L 651.38 -59.4 
L 652.05 -59.4 
L 652.5 -59.4 
L 652.73 -59.4 
L 653.4 -59.4 
L 654.08 -59.4 
L 654.75 -59.4 
L 655.42 -59.4 
L 655.51 -59.4 
L 656.1 -59.4 
L 656.77 -59.4 
L 657.45 -59.4 
L 657.76 -59.4 
L 658.12 -59.4 
L 658.8 -59.4 
L 659.48 -59.4 
L 659.61 -59.4 
L 660.15 -59.4 
L 660.83 -59.4 
L 661.5 -59.4 
L 662.17 -59.4 
L 662.85 -59.4 
L 663.39 -59.4 
L 663.52 -59.4 
L 664.2 -59.4 
L 664.88 -59.4 
L 665.55 -59.4 
L 666 -59.4 
L 666 -59.4 
L 666 -59.4 
L 665.55 -59.40 
L 664.88 -59.41 
L 664.2 -59.42 
L 663.52 -59.44 
L 663.39 -59.45 
L 662.85 -59.54 
L 662.17 -59.83 
L 661.5 -60.21 
L 660.83 -60.89 
L 660.15 -61.74 
L 659.61 -62.1 
L 659.48 -62.12 
L 658.8 -62.22 
L 658.12 -62.27 
L 657.76 -62.28 
L 657.45 -62.26 
L 656.77 -62.10 
L 656.1 -61.87 
L 655.51 -61.70 
L 655.42 -61.67 
L 654.75 -61.47 
L 654.08 -61.26 
L 653.4 -61.08 
L 652.73 -60.98 
L 652.5 -60.98 
L 652.05 -61.04 
L 651.38 -61.37 
L 650.7 -61.95 
L 650.25 -62.46 
L 650.02 -63.03 
L 649.35 -66.23 
L 649.12 -66.96 
L 648.67 -67.89 
L 648 -68.80 
L 647.82 -68.85 
L 647.33 -68.44 
L 646.65 -67.21 
L 646.51 -66.96 
L 645.98 -66.00 
L 645.3 -64.51 
L 644.99 -63.59 
L 644.62 -61.42 
L 644.26 -59.85 
L 643.95 -59.85 
L 643.27 -59.85 
L 642.74 -59.85 
L 642.6 -59.86 
L 641.92 -60.11 
L 641.25 -60.57 
L 640.58 -61.78 
L 639.9 -63.11 
L 639.76 -63.23 
L 639.23 -63.40 
L 638.64 -63.59 
L 638.55 -63.65 
L 637.88 -64.70 
L 637.34 -65.25 
L 637.2 -65.23 
L 636.52 -64.83 
L 636.39 -64.71 
L 635.85 -63.77 
L 635.26 -62.46 
L 635.17 -62.29 
L 634.5 -60.80 
L 633.83 -59.87 
L 633.74 -59.85 
L 633.15 -59.88 
L 632.48 -60.01 
L 631.89 -60.21 
L 631.8 -60.32 
L 631.12 -63.62 
L 630.76 -65.07 
L 630.45 -65.63 
L 629.77 -66.48 
L 629.46 -66.6 
L 629.1 -66.50 
L 628.42 -65.88 
L 628.11 -65.47 
L 627.75 -64.43 
L 627.08 -61.84 
L 626.99 -61.70 
L 626.4 -61.07 
L 625.73 -60.49 
L 625.05 -60.09 
L 624.38 -59.88 
L 624.01 -59.85 
L 623.7 -59.91 
L 623.02 -60.38 
L 622.35 -61.20 
L 621.76 -62.1 
L 621.67 -62.29 
L 621 -64.35 
L 620.33 -65.01 
L 619.70 -65.25 
L 619.65 -65.25 
L 618.98 -65.16 
L 618.3 -64.90 
L 617.99 -64.71 
L 617.62 -63.10 
L 617.26 -61.34 
L 616.95 -60.90 
L 616.27 -60.20 
L 615.6 -59.87 
L 615.38 -59.85 
L 614.92 -59.99 
L 614.25 -60.58 
L 613.58 -61.26 
L 613.49 -61.34 
L 612.9 -61.96 
L 612.23 -62.66 
L 611.82 -62.82 
L 611.55 -62.80 
L 610.88 -62.57 
L 610.2 -62.18 
L 609.52 -61.70 
L 608.99 -61.34 
L 608.85 -61.24 
L 608.17 -60.56 
L 607.5 -59.96 
L 607.14 -59.85 
L 606.83 -59.85 
L 606.15 -59.85 
L 605.48 -59.85 
L 604.8 -59.85 
L 604.12 -59.85 
L 603.45 -60.30 
L 602.77 -61.17 
L 602.24 -61.70 
L 602.1 -61.77 
L 601.42 -62.16 
L 600.75 -62.42 
L 600.39 -62.46 
L 600.08 -62.44 
L 599.4 -62.25 
L 598.73 -61.93 
L 598.05 -61.53 
L 597.74 -61.34 
L 597.38 -60.99 
L 596.7 -60.12 
L 596.25 -59.85 
L 596.02 -59.92 
L 595.35 -60.77 
L 594.67 -61.90 
L 594 -62.46 
L 593.33 -62.07 
L 592.65 -61.42 
L 592.51 -61.34 
L 591.98 -61.01 
L 591.3 -60.63 
L 590.62 -60.39 
L 590.26 -60.34 
L 589.95 -60.39 
L 589.27 -60.70 
L 588.6 -61.17 
L 588.38 -61.34 
L 587.92 -61.85 
L 587.25 -62.91 
L 586.58 -63.57 
L 586.49 -63.59 
L 585.9 -63.45 
L 585.23 -63.06 
L 584.55 -62.56 
L 583.88 -62.1 
L 583.2 -61.66 
L 582.52 -61.22 
L 581.99 -60.98 
L 581.85 -60.93 
L 581.17 -60.73 
L 580.5 -60.59 
L 580.14 -60.57 
L 579.83 -60.74 
L 579.15 -61.66 
L 578.61 -62.1 
L 578.48 -62.09 
L 577.8 -61.93 
L 577.12 -61.74 
L 576.76 -61.70 
L 576.45 -61.86 
L 575.77 -62.79 
L 575.24 -63.23 
L 575.1 -63.21 
L 574.42 -62.89 
L 573.75 -62.46 
L 573.08 -62.13 
L 572.4 -61.77 
L 572.26 -61.70 
L 571.73 -61.27 
L 571.05 -60.64 
L 570.38 -60.16 
L 570.01 -60.08 
L 569.7 -60.10 
L 569.02 -60.28 
L 568.35 -60.61 
L 567.76 -60.98 
L 567.67 -61.05 
L 567 -62.30 
L 566.33 -63.83 
L 565.88 -64.35 
L 565.65 -64.42 
L 564.98 -64.60 
L 564.3 -64.70 
L 563.99 -64.71 
L 563.62 -64.66 
L 562.95 -64.40 
L 562.86 -64.35 
L 562.27 -63.44 
L 561.6 -61.79 
L 561.01 -60.98 
L 560.92 -60.95 
L 560.25 -60.80 
L 559.58 -60.68 
L 558.9 -60.61 
L 558.23 -60.57 
L 558 -60.57 
L 557.55 -60.57 
L 556.88 -60.59 
L 556.2 -60.62 
L 555.52 -60.67 
L 554.85 -60.73 
L 554.17 -60.80 
L 553.5 -60.88 
L 552.83 -60.96 
L 552.74 -60.98 
L 552.15 -61.08 
L 551.48 -61.28 
L 550.8 -61.55 
L 550.49 -61.70 
L 550.12 -62.00 
L 549.45 -62.84 
L 548.87 -63.23 
L 548.77 -63.22 
L 548.1 -62.83 
L 547.42 -62.27 
L 547.11 -62.1 
L 546.75 -62.00 
L 546.08 -61.88 
L 545.4 -61.74 
L 545.26 -61.70 
L 544.73 -61.38 
L 544.05 -60.78 
L 543.38 -60.30 
L 543.01 -60.21 
L 542.7 -60.24 
L 542.02 -60.45 
L 541.35 -60.83 
L 541.12 -60.98 
L 540.67 -61.68 
L 540 -63.49 
L 539.33 -64.69 
L 539.24 -64.71 
L 538.65 -64.09 
L 537.98 -62.72 
L 537.39 -62.1 
L 537.3 -62.10 
L 536.62 -62.28 
L 535.95 -62.46 
L 535.86 -62.46 
L 535.27 -62.29 
L 534.6 -61.80 
L 533.92 -61.17 
L 533.25 -60.62 
L 532.58 -60.35 
L 532.49 -60.34 
L 531.9 -60.34 
L 531.23 -60.34 
L 530.55 -60.34 
L 529.88 -60.34 
L 529.2 -60.34 
L 528.52 -60.34 
L 527.99 -60.34 
L 527.85 -60.34 
L 527.17 -60.31 
L 526.5 -60.25 
L 525.83 -60.18 
L 525.15 -60.11 
L 524.48 -60.08 
L 524.25 -60.08 
L 523.8 -60.13 
L 523.12 -60.36 
L 522.45 -60.71 
L 522 -60.98 
L 521.77 -61.16 
L 521.1 -62.08 
L 520.42 -62.99 
L 519.98 -63.23 
L 519.75 -63.19 
L 519.08 -62.78 
L 518.4 -62.12 
L 517.73 -61.49 
L 517.5 -61.34 
L 517.05 -61.04 
L 516.38 -60.60 
L 515.7 -60.28 
L 515.25 -60.21 
L 515.02 -60.22 
L 514.35 -60.37 
L 513.67 -60.64 
L 513 -60.98 
L 512.33 -61.66 
L 511.65 -62.51 
L 511.11 -62.82 
L 510.98 -62.82 
L 510.3 -62.75 
L 509.62 -62.63 
L 508.95 -62.48 
L 508.86 -62.46 
L 508.27 -62.26 
L 507.6 -61.96 
L 506.93 -61.73 
L 506.61 -61.70 
L 506.25 -61.94 
L 505.89 -62.46 
L 505.57 -63.25 
L 504.9 -65.86 
L 504.36 -66.96 
L 504.23 -66.90 
L 503.55 -65.48 
L 502.88 -64.35 
L 502.2 -64.51 
L 501.52 -64.70 
L 501.39 -64.71 
L 500.85 -64.02 
L 500.18 -62.19 
L 499.5 -60.98 
L 498.82 -60.71 
L 498.15 -60.57 
L 498.01 -60.57 
L 497.48 -60.79 
L 496.8 -61.37 
L 496.12 -61.70 
L 495.45 -61.70 
L 494.77 -61.70 
L 494.64 -61.70 
L 494.1 -62.06 
L 493.43 -62.91 
L 492.93 -63.23 
L 492.75 -63.18 
L 492.07 -62.43 
L 491.4 -61.72 
L 491.26 -61.70 
L 490.73 -62.07 
L 490.05 -63.03 
L 489.38 -63.59 
L 488.7 -63.55 
z
"/>
    </defs>
    <g clip-path="url(#p638d60d095)">
     <use href="#m66f0ff7009" x="0" y="540" style="fill: #0000ff"/>
    </g>
   </g>
   <g id="matplotlib.axis_3">
    <g id="ytick_5">
     <g id="line2d_9">
      <defs>
       <path id="m01d27d274f" d="M 0 0 
L 3.5 0 
" style="stroke: #ff0000; stroke-width: 0.8"/>
      </defs>
      <g>
       <use href="#m01d27d274f" x="663.39" y="480.6" style="fill: #ff0000; stroke: #ff0000; stroke-width: 0.8"/>
      </g>
     </g>
     <g id="text_12">
      <text style="font-size: 25px; font-family: 'DejaVu Sans', sans-serif; text-anchor: start; fill: #ff0000" x="670.39" y="490.10" transform="rotate(-0 670.39 490.10)">0</text>
     </g>
    </g>
    <g id="ytick_6">
     <g id="line2d_10">
      <g>
       <use href="#m01d27d274f" x="663.39" y="397.44" style="fill: #ff0000; stroke: #ff0000; stroke-width: 0.8"/>
      </g>
     </g>
     <g id="text_13">
      <text style="font-size: 25px; font-family: 'DejaVu Sans', sans-serif; text-anchor: start; fill: #ff0000" x="670.39" y="406.94" transform="rotate(-0 670.39 406.94)">1</text>
     </g>
    </g>
    <g id="ytick_7">
     <g id="line2d_11">
      <g>
       <use href="#m01d27d274f" x="663.39" y="314.28" style="fill: #ff0000; stroke: #ff0000; stroke-width: 0.8"/>
      </g>
     </g>
     <g id="text_14">
      <text style="font-size: 25px; font-family: 'DejaVu Sans', sans-serif; text-anchor: start; fill: #ff0000" x="670.39" y="323.78" transform="rotate(-0 670.39 323.78)">2</text>
     </g>
    </g>
    <g id="ytick_8">
     <g id="line2d_12">
      <g>
       <use href="#m01d27d274f" x="663.39" y="231.12" style="fill: #ff0000; stroke: #ff0000; stroke-width: 0.8"/>
      </g>
     </g>
     <g id="text_15">
      <text style="font-size: 25px; font-family: 'DejaVu Sans', sans-serif; text-anchor: start; fill: #ff0000" x="670.39" y="240.62" transform="rotate(-0 670.39 240.62)">3</text>
     </g>
    </g>
    <g id="ytick_9">
     <g id="line2d_13">
      <g>
       <use href="#m01d27d274f" x="663.39" y="147.96" style="fill: #ff0000; stroke: #ff0000; stroke-width: 0.8"/>
      </g>
     </g>
     <g id="text_16">
      <text style="font-size: 25px; font-family: 'DejaVu Sans', sans-serif; text-anchor: start; fill: #ff0000" x="670.39" y="157.46" transform="rotate(-0 670.39 157.46)">4</text>
     </g>
    </g>
    <g id="ytick_10">
     <g id="line2d_14">
      <g>
       <use href="#m01d27d274f" x="663.39" y="64.8" style="fill: #ff0000; stroke: #ff0000; stroke-width: 0.8"/>
      </g>
     </g>
     <g id="text_17">
      <text style="font-size: 25px; font-family: 'DejaVu Sans', sans-serif; text-anchor: start; fill: #ff0000" x="670.39" y="74.30" transform="rotate(-0 670.39 74.30)">5</text>
     </g>
    </g>
    <g id="text_18">
     <g style="fill: #ff0000" transform="translate(706.15 431.62) rotate(-90)">
      <text>
       <tspan x="0" y="-0.72" style="font-style: oblique; font-size: 20px; font-family: 'DejaVu Sans', sans-serif; fill: #ff0000">E</tspan>
       <tspan x="45.55" y="-0.72" style="font-style: oblique; font-size: 20px; font-family: 'DejaVu Sans', sans-serif; fill: #ff0000">m</tspan>
       <tspan x="74.19" y="-0.72" style="font-style: oblique; font-size: 20px; font-family: 'DejaVu Sans', sans-serif; fill: #ff0000">c</tspan>
       <tspan x="85.19" y="-0.72" style="font-style: oblique; font-size: 20px; font-family: 'DejaVu Sans', sans-serif; fill: #ff0000">ω</tspan>
       <tspan x="115.41" y="-0.72" style="font-style: oblique; font-size: 20px; font-family: 'DejaVu Sans', sans-serif; fill: #ff0000">e</tspan>
       <tspan x="182.62" y="-0.72" style="font-style: oblique; font-size: 20px; font-family: 'DejaVu Sans', sans-serif; fill: #ff0000">n</tspan>
       <tspan x="216.50" y="-0.72" style="font-style: oblique; font-size: 20px; font-family: 'DejaVu Sans', sans-serif; fill: #ff0000">Z</tspan>
       <tspan x="234.64" y="-0.72" style="font-style: oblique; font-size: 20px; font-family: 'DejaVu Sans', sans-serif; fill: #ff0000">n</tspan>
       <tspan x="287.87" y="-0.72" style="font-style: oblique; font-size: 20px; font-family: 'DejaVu Sans', sans-serif; fill: #ff0000">n</tspan>
       <tspan x="12.64" y="2.56" style="font-style: oblique; font-size: 14px; font-family: 'DejaVu Sans', sans-serif; fill: #ff0000">x</tspan>
       <tspan x="65.03" y="2.56" style="font-style: oblique; font-size: 14px; font-family: 'DejaVu Sans', sans-serif; fill: #ff0000">e</tspan>
       <tspan x="195.30" y="2.56" style="font-style: oblique; font-size: 14px; font-family: 'DejaVu Sans', sans-serif; fill: #ff0000">e</tspan>
       <tspan x="230.20" y="2.56" style="font-style: oblique; font-size: 14px; font-family: 'DejaVu Sans', sans-serif; fill: #ff0000">i</tspan>
       <tspan x="247.31" y="2.56" style="font-style: oblique; font-size: 14px; font-family: 'DejaVu Sans', sans-serif; fill: #ff0000">i</tspan>
       <tspan x="300.55" y="2.56" style="font-style: oblique; font-size: 14px; font-family: 'DejaVu Sans', sans-serif; fill: #ff0000">c</tspan>
       <tspan x="21.47" y="-0.72" style="font-size: 20px; font-family: 'DejaVu Sans Mono', monospace; fill: #ff0000"> </tspan>
       <tspan x="33.51" y="-0.72" style="font-size: 20px; font-family: 'DejaVu Sans Mono', monospace; fill: #ff0000">[</tspan>
       <tspan x="134.46" y="-0.72" style="font-size: 20px; font-family: 'DejaVu Sans Mono', monospace; fill: #ff0000">]</tspan>
       <tspan x="146.50" y="-0.72" style="font-size: 20px; font-family: 'DejaVu Sans Mono', monospace; fill: #ff0000"> </tspan>
       <tspan x="158.54" y="-0.72" style="font-size: 20px; font-family: 'DejaVu Sans Mono', monospace; fill: #ff0000">&amp;</tspan>
       <tspan x="170.58" y="-0.72" style="font-size: 20px; font-family: 'DejaVu Sans Mono', monospace; fill: #ff0000"> </tspan>
       <tspan x="204.46" y="-0.72" style="font-size: 20px; font-family: 'DejaVu Sans Mono', monospace; fill: #ff0000">(</tspan>
       <tspan x="251.75" y="-0.72" style="font-size: 20px; font-family: 'DejaVu Sans Mono', monospace; fill: #ff0000">)</tspan>
       <tspan x="263.79" y="-0.72" style="font-size: 20px; font-family: 'DejaVu Sans Mono', monospace; fill: #ff0000"> </tspan>
       <tspan x="275.83" y="-0.72" style="font-size: 20px; font-family: 'DejaVu Sans Mono', monospace; fill: #ff0000">[</tspan>
       <tspan x="308.79" y="-0.72" style="font-size: 20px; font-family: 'DejaVu Sans Mono', monospace; fill: #ff0000">]</tspan>
       <tspan x="101.94" y="-0.72" style="font-size: 20px; font-family: 'DejaVu Sans', sans-serif; fill: #ff0000">/</tspan>
       <tspan x="108.68" y="-0.72" style="font-size: 20px; font-family: 'DejaVu Sans', sans-serif; fill: #ff0000">|</tspan>
       <tspan x="127.72" y="-0.72" style="font-size: 20px; font-family: 'DejaVu Sans', sans-serif; fill: #ff0000">|</tspan>
      </text>
     </g>
    </g>
   </g>
   <g id="line2d_15">
    <path d="M 137.84 433.35 
L 138.38 428.38 
L 139.05 421.78 
L 139.32 418.5 
L 139.72 411.52 
L 140.31 400.5 
L 140.4 399.23 
L 140.90 392.99 
L 141.07 389.91 
L 141.25 387.36 
L 141.75 384.38 
L 142.38 381.74 
L 142.43 381.50 
L 143.1 377.73 
L 143.32 376.88 
L 143.78 375.87 
L 144.09 375.39 
L 144.45 375.01 
L 145.12 374.53 
L 145.75 373.86 
L 145.8 373.78 
L 146.47 371.45 
L 146.7 370.49 
L 147.15 367.87 
L 147.47 366.75 
L 147.82 366.61 
L 148.5 366.48 
L 148.95 366.39 
L 149.18 366.33 
L 149.85 366.12 
L 150.07 365.99 
L 150.53 362.61 
L 150.84 359.24 
L 151.2 355.85 
L 151.88 350.46 
L 152.55 348.08 
L 153.22 346.12 
L 153.27 345.96 
L 153.9 343.61 
L 154.57 340.51 
L 154.71 339.75 
L 155.25 335.38 
L 155.93 328.52 
L 156.10 326.83 
L 156.6 322.14 
L 157.23 317.25 
L 157.28 317.02 
L 157.95 314.26 
L 158.09 314.14 
L 158.62 314.14 
L 159.21 314.14 
L 159.3 314.23 
L 159.97 318.41 
L 160.34 321.21 
L 160.65 323.34 
L 161.32 328.09 
L 161.73 330.75 
L 162 332.38 
L 162.68 336.18 
L 163.12 338.62 
L 163.35 339.83 
L 164.03 343.36 
L 164.52 345.96 
L 164.7 346.99 
L 165.38 351.00 
L 165.65 352.12 
L 166.05 353.40 
L 166.72 354.64 
L 166.77 354.64 
L 167.4 353.61 
L 167.90 352.12 
L 168.07 351.53 
L 168.75 348.64 
L 169.02 347.62 
L 169.43 346.49 
L 170.1 344.92 
L 170.73 343.12 
L 170.78 342.96 
L 171.45 339.67 
L 172.12 335.83 
L 172.8 331.61 
L 173.25 329.62 
L 173.47 329.12 
L 174.15 328.05 
L 174.38 327.96 
L 174.82 328.94 
L 175.5 330.75 
L 176.18 329.98 
L 176.85 328.76 
L 177.21 328.5 
L 177.53 328.75 
L 178.2 330.34 
L 178.88 331.88 
L 179.55 332.51 
L 180.22 333.07 
L 180.59 333.58 
L 180.9 334.66 
L 181.57 338.88 
L 181.71 339.75 
L 182.25 343.61 
L 182.93 348.71 
L 183.10 349.88 
L 183.6 353.00 
L 184.28 356.54 
L 184.5 357.21 
L 184.95 358.14 
L 185.62 359.05 
L 185.90 359.14 
L 186.3 359.08 
L 186.97 358.78 
L 187.34 358.61 
L 187.65 358.47 
L 188.32 358.12 
L 188.73 357.75 
L 189 356.55 
L 189.68 350.41 
L 189.85 349.33 
L 190.35 347.35 
L 191.03 345.70 
L 191.16 345.64 
L 191.7 345.79 
L 192.38 346.31 
L 193.05 347.06 
L 193.5 347.62 
L 193.72 347.98 
L 194.4 349.61 
L 195.07 351.32 
L 195.21 351.58 
L 195.75 352.66 
L 196.43 353.81 
L 196.88 354.11 
L 197.1 354.05 
L 197.78 353.35 
L 198.45 352.32 
L 198.59 352.12 
L 199.12 351.34 
L 199.8 350.22 
L 200.47 348.85 
L 200.52 348.75 
L 201.15 346.83 
L 201.82 344.60 
L 201.96 344.25 
L 202.5 342.98 
L 203.18 341.66 
L 203.62 341.14 
L 203.85 341.00 
L 204.53 340.61 
L 205.2 340.38 
L 205.60 340.33 
L 205.88 340.49 
L 206.55 341.72 
L 207 342.58 
L 207.22 342.98 
L 207.9 344.13 
L 208.12 344.25 
L 208.57 344.03 
L 209.25 343.08 
L 209.52 342.58 
L 209.93 341.30 
L 210.6 337.97 
L 210.96 336.38 
L 211.28 335.19 
L 211.95 332.84 
L 212.35 331.88 
L 212.62 331.41 
L 213.3 330.45 
L 213.75 330.21 
L 213.97 330.38 
L 214.65 332.15 
L 215.15 333.58 
L 215.32 334.01 
L 216 335.68 
L 216.59 336.64 
L 216.68 336.72 
L 217.35 337.27 
L 218.03 337.70 
L 218.7 337.98 
L 219.38 338.08 
L 220.05 337.92 
L 220.72 337.48 
L 221.4 336.87 
L 221.62 336.64 
L 222.07 336.02 
L 222.75 334.56 
L 223.34 333 
L 223.43 332.74 
L 224.1 330.20 
L 224.78 327.21 
L 225 326.25 
L 225.45 324.31 
L 226.12 321.34 
L 226.71 318.96 
L 226.8 318.62 
L 227.47 316.05 
L 228.15 313.87 
L 228.38 313.33 
L 228.82 312.44 
L 229.5 311.30 
L 230.18 310.41 
L 230.62 309.96 
L 230.85 309.76 
L 231.53 309.19 
L 232.2 308.69 
L 232.88 308.35 
L 233.46 308.25 
L 233.55 308.26 
L 234.22 308.90 
L 234.9 310.09 
L 235.12 310.5 
L 235.57 311.49 
L 236.25 313.38 
L 236.84 315 
L 236.93 315.23 
L 237.6 317.15 
L 238.28 318.70 
L 238.5 318.96 
L 238.95 319.27 
L 239.62 319.5 
L 240.3 319.30 
L 240.97 318.87 
L 241.65 318.46 
L 241.88 318.38 
L 242.32 318.23 
L 243 318.11 
L 243.68 318.69 
L 244.35 319.97 
L 244.89 320.99 
L 245.03 321.20 
L 245.7 322.24 
L 246.38 323.31 
L 247.05 324.53 
L 247.5 325.49 
L 247.72 326.03 
L 248.4 327.94 
L 249.07 330.27 
L 249.75 333 
L 250.43 336.55 
L 251.1 340.84 
L 251.64 344.25 
L 251.78 345.06 
L 252.45 349.05 
L 253.12 353.16 
L 253.49 355.5 
L 253.8 357.77 
L 254.47 363.09 
L 255.01 366.75 
L 255.15 367.50 
L 255.82 371.00 
L 256.5 373.5 
L 257.18 375.21 
L 257.85 376.49 
L 258.39 376.88 
L 258.52 376.86 
L 259.2 376.52 
L 259.88 375.82 
L 260.55 374.91 
L 261 374.26 
L 261.23 373.91 
L 261.9 372.49 
L 262.57 370.76 
L 263.25 369 
L 263.93 367.04 
L 264.6 364.95 
L 265.27 363.34 
L 265.5 363.01 
L 265.95 362.52 
L 266.62 361.98 
L 266.99 361.89 
L 267.3 361.90 
L 267.98 362.00 
L 268.65 362.17 
L 268.88 362.25 
L 269.32 362.90 
L 270 364.50 
L 270.36 364.86 
L 270.68 364.74 
L 271.35 363.93 
L 272.02 362.82 
L 272.7 362.01 
L 273.01 361.89 
L 273.38 362.16 
L 274.05 362.99 
L 274.14 363.01 
L 274.73 362.76 
L 275.4 362.11 
L 276.07 361.57 
L 276.39 361.49 
L 276.75 361.56 
L 277.43 362.02 
L 278.1 362.59 
L 278.77 362.98 
L 279 363.01 
L 279.45 363.00 
L 280.12 362.93 
L 280.8 362.83 
L 281.48 362.73 
L 281.7 362.7 
L 282.15 362.65 
L 282.82 362.58 
L 283.27 362.48 
L 283.5 362.01 
L 284.18 357.52 
L 284.31 356.4 
L 284.85 349.61 
L 285.07 346.5 
L 285.52 340.80 
L 285.98 335.25 
L 286.2 332.54 
L 286.88 324.62 
L 287.32 319.5 
L 287.55 316.94 
L 288.23 309.55 
L 288.36 308.25 
L 288.9 303.81 
L 289.57 298.77 
L 289.89 296.1 
L 290.25 292.64 
L 290.93 285.41 
L 291.6 277.58 
L 292.27 269.60 
L 292.5 266.99 
L 292.95 261.85 
L 293.62 254.06 
L 294.3 245.68 
L 294.39 244.49 
L 294.98 235.86 
L 295.65 225.28 
L 295.88 221.99 
L 296.32 215.99 
L 297 207 
L 297.68 196.75 
L 298.35 185.74 
L 299.02 174.24 
L 299.7 162.51 
L 300.38 150.81 
L 301.05 139.42 
L 301.32 135 
L 301.73 128.19 
L 302.26 120.02 
L 302.4 118.38 
L 303.07 111.27 
L 303.39 108.77 
L 303.75 106.35 
L 304.43 103.00 
L 304.51 102.73 
L 305.1 101.31 
L 305.77 100.49 
L 305.82 100.48 
L 306.45 101.02 
L 307.12 102.02 
L 307.8 102.91 
L 308.07 103.14 
L 308.48 103.32 
L 309.15 103.52 
L 309.82 103.64 
L 310.5 103.79 
L 311.18 104.04 
L 311.26 104.08 
L 311.85 104.63 
L 312.52 105.69 
L 312.75 106.11 
L 313.2 107.14 
L 313.88 109.48 
L 314.55 114.27 
L 315 118.12 
L 315.23 119.93 
L 315.9 125.58 
L 316.57 131.20 
L 317.07 135 
L 317.25 136.29 
L 317.93 140.83 
L 318.6 145.02 
L 319.27 148.98 
L 319.95 152.85 
L 320.62 156.75 
L 321.3 160.82 
L 321.98 165.19 
L 322.65 169.98 
L 322.79 171 
L 323.32 175.49 
L 324 181.89 
L 324.68 188.75 
L 325.35 195.63 
L 326.02 202.08 
L 326.61 207 
L 326.7 207.69 
L 327.38 212.53 
L 328.05 216.96 
L 328.73 221.16 
L 328.86 221.99 
L 329.4 225.19 
L 330.07 228.98 
L 330.75 232.70 
L 331.43 236.49 
L 331.51 237.01 
L 332.1 240.47 
L 332.77 244.54 
L 333.45 248.64 
L 334.12 252.69 
L 334.26 253.49 
L 334.8 256.80 
L 335.48 260.99 
L 336.15 264.68 
L 336.33 265.5 
L 336.82 267.43 
L 337.5 269.62 
L 338.18 271.65 
L 338.85 273.97 
L 338.99 274.5 
L 339.52 276.81 
L 340.2 280.05 
L 340.88 283.66 
L 341.24 285.75 
L 341.55 287.92 
L 342.23 293.23 
L 342.63 295.65 
L 342.9 296.81 
L 343.57 299.36 
L 344.25 301.29 
L 344.79 302.26 
L 344.93 302.43 
L 345.6 303.09 
L 346.27 303.53 
L 346.95 303.89 
L 347.62 304.26 
L 348.3 304.77 
L 348.75 305.24 
L 348.98 305.53 
L 349.65 306.75 
L 350.32 308.42 
L 351 310.5 
L 351.68 313.85 
L 352.35 318.42 
L 353.02 322.82 
L 353.25 324 
L 353.7 326.04 
L 354.38 328.76 
L 355.05 331.30 
L 355.5 333 
L 355.73 333.85 
L 356.4 336.19 
L 357.07 338.46 
L 357.75 340.91 
L 358.43 343.81 
L 358.51 344.25 
L 359.1 348.06 
L 359.24 348.75 
L 359.77 350.95 
L 360.45 353.17 
L 361.12 354.38 
L 361.8 354.80 
L 362.48 355.05 
L 363.15 355.24 
L 363.82 355.47 
L 364.5 355.86 
L 365.18 357.08 
L 365.85 358.94 
L 366.52 360.25 
L 366.75 360.36 
L 367.2 360.24 
L 367.88 359.64 
L 368.55 358.67 
L 368.64 358.51 
L 369.23 355.33 
L 369.9 349.26 
L 370.49 345.74 
L 370.57 345.51 
L 371.25 343.97 
L 371.93 342.98 
L 372.38 342.76 
L 372.6 342.88 
L 373.27 344.19 
L 373.86 345.74 
L 373.95 345.98 
L 374.62 348.50 
L 375.3 350.54 
L 375.39 350.64 
L 375.98 351.07 
L 376.65 351.34 
L 376.88 351.36 
L 377.32 351.29 
L 378 351.04 
L 378.68 350.87 
L 378.76 350.87 
L 379.35 351.13 
L 380.02 351.86 
L 380.7 352.63 
L 381.01 352.89 
L 381.38 353.13 
L 382.05 353.58 
L 382.73 353.92 
L 383.26 354.01 
L 383.4 354.01 
L 384.07 353.85 
L 384.75 353.65 
L 385.11 353.61 
L 385.43 353.68 
L 386.1 354.14 
L 386.77 354.56 
L 387 354.6 
L 387.45 354.31 
L 388.12 353.17 
L 388.49 352.49 
L 388.8 351.77 
L 389.48 349.83 
L 390.01 348.75 
L 390.15 348.61 
L 390.82 348.03 
L 391.37 347.85 
L 391.5 347.88 
L 392.18 348.73 
L 392.85 350.01 
L 392.99 350.24 
L 393.52 351.25 
L 394.2 352.61 
L 394.88 353.25 
L 395.55 352.70 
L 396.23 351.64 
L 396.76 351 
L 396.9 350.90 
L 397.57 350.43 
L 398.25 350.05 
L 398.93 349.88 
L 399.01 349.88 
L 399.6 350.16 
L 400.27 350.94 
L 400.95 351.75 
L 401.62 352.12 
L 402.3 351.44 
L 402.98 349.87 
L 403.11 349.51 
L 403.65 347.11 
L 404.32 342.66 
L 405 338.99 
L 405.68 336.51 
L 406.35 335.25 
L 407.02 336.12 
L 407.7 338.03 
L 408.01 338.99 
L 408.38 340.37 
L 409.05 343.61 
L 409.5 345.01 
L 409.73 345.36 
L 410.4 346.21 
L 411.07 346.73 
L 411.39 346.86 
L 411.75 346.94 
L 412.43 347.03 
L 413.1 347.09 
L 413.77 347.20 
L 414 347.26 
L 414.45 348.15 
L 415.12 351.10 
L 415.8 353.81 
L 415.89 354.01 
L 416.48 355.04 
L 417.15 355.94 
L 417.82 356.68 
L 418.5 357.43 
L 419.18 358.37 
L 419.26 358.51 
L 419.85 359.66 
L 420.52 361.29 
L 421.2 363.07 
L 421.88 364.81 
L 422.55 366.32 
L 423 367.11 
L 423.23 367.43 
L 423.9 368.17 
L 424.57 368.81 
L 425.25 369.58 
L 425.61 370.12 
L 425.93 370.86 
L 426.6 373.23 
L 427.27 375.36 
L 427.5 375.75 
L 427.95 376.26 
L 428.62 376.79 
L 428.99 376.88 
L 429.3 376.76 
L 429.98 375.93 
L 430.65 374.80 
L 431.32 373.98 
L 431.64 373.86 
L 432 374.22 
L 432.68 376.27 
L 433.12 378 
L 433.35 379.05 
L 434.02 383.69 
L 434.7 388.14 
L 435.01 389.25 
L 435.38 389.94 
L 436.05 390.98 
L 436.73 391.48 
L 436.86 391.5 
L 437.4 390.06 
L 438.07 386.16 
L 438.75 383.26 
L 439.43 382.16 
L 440.1 381.47 
L 440.42 381.38 
L 440.77 382.18 
L 441.45 386.04 
L 441.76 387.76 
L 442.12 389.48 
L 442.8 392.85 
L 443.48 395.84 
L 444.01 397.49 
L 444.15 397.78 
L 444.82 399.13 
L 445.5 399.74 
L 446.18 399.74 
L 446.85 399.74 
L 447.52 399.74 
L 447.75 399.74 
L 448.2 399.91 
L 448.88 400.71 
L 449.55 401.89 
L 450 402.75 
L 450.23 403.28 
L 450.9 405.67 
L 451.57 408.06 
L 451.89 408.74 
L 452.25 409.25 
L 452.93 409.85 
L 453.01 409.86 
L 453.6 409.76 
L 454.27 409.42 
L 454.95 408.95 
L 455.62 408.41 
L 456.3 407.89 
L 456.98 407.49 
L 457.65 407.27 
L 457.88 407.25 
L 458.32 407.44 
L 459 408.23 
L 459.68 409.28 
L 460.35 410.15 
L 460.49 410.26 
L 461.02 410.70 
L 461.7 411.18 
L 462.38 411.39 
L 463.05 410.18 
L 463.73 407.64 
L 464.4 405.40 
L 464.62 405 
L 465.07 404.47 
L 465.75 403.82 
L 466.43 403.52 
L 466.51 403.51 
L 467.1 403.83 
L 467.77 404.77 
L 468.45 405.96 
L 468.76 406.49 
L 469.12 407.17 
L 469.8 408.80 
L 470.48 410.31 
L 471.01 410.99 
L 471.15 411.06 
L 471.82 411.35 
L 472.14 411.39 
L 472.5 410.97 
L 473.18 408.78 
L 473.85 406.69 
L 473.99 406.49 
L 474.52 405.91 
L 475.2 405.43 
L 475.51 405.36 
L 475.88 405.65 
L 476.55 407.31 
L 477 408.74 
L 477.23 409.64 
L 477.9 413.21 
L 478.12 414 
L 478.57 415.07 
L 479.25 415.89 
L 479.93 415.58 
L 480.6 414.89 
L 481.27 414.18 
L 481.5 414 
L 481.95 413.66 
L 482.62 413.15 
L 483.3 412.88 
L 483.39 412.88 
L 483.98 414.09 
L 484.65 416.91 
L 484.88 417.74 
L 485.32 419.34 
L 486 421.87 
L 486.68 423.64 
L 486.76 423.76 
L 487.35 424.41 
L 488.02 424.85 
L 488.25 424.89 
L 488.7 424.81 
L 489.38 424.54 
L 490.05 424.35 
L 490.14 424.35 
L 490.73 424.75 
L 491.4 425.62 
L 491.99 426.01 
L 492.07 426.01 
L 492.75 426.01 
L 493.43 426.01 
L 493.88 426.01 
L 494.1 426.07 
L 494.77 426.75 
L 495.45 427.86 
L 496.12 428.99 
L 496.8 429.96 
L 497.48 431.01 
L 498.01 432 
L 498.15 432.30 
L 498.82 434.38 
L 499.5 436.35 
L 499.86 436.86 
L 500.18 437.03 
L 500.85 437.26 
L 500.99 437.26 
L 501.52 437.15 
L 502.2 436.90 
L 502.51 436.86 
L 502.88 437.12 
L 503.55 438.49 
L 504 439.51 
L 504.23 440.00 
L 504.9 441.67 
L 505.57 443.35 
L 505.89 444.01 
L 506.25 444.76 
L 506.93 446.15 
L 507.6 446.96 
L 507.74 446.99 
L 508.27 446.86 
L 508.95 446.49 
L 509.62 446.09 
L 510.3 445.86 
L 510.39 445.86 
L 510.98 446.49 
L 511.65 448.02 
L 511.88 448.51 
L 512.33 449.61 
L 513 451.51 
L 513.67 452.92 
L 513.76 453.01 
L 514.35 453.53 
L 514.89 453.74 
L 515.02 453.72 
L 515.7 453.19 
L 516.38 452.38 
L 517.05 451.90 
L 517.14 451.89 
L 517.73 451.89 
L 518.4 451.89 
L 518.62 451.89 
L 519.08 452.25 
L 519.75 453.66 
L 520.42 455.12 
L 520.51 455.26 
L 521.1 456.20 
L 521.77 457.16 
L 522.36 457.51 
L 522.45 457.50 
L 523.12 456.54 
L 523.8 455.35 
L 523.89 455.26 
L 524.48 454.84 
L 525.15 454.53 
L 525.38 454.5 
L 525.83 454.70 
L 526.5 455.54 
L 527.17 456.57 
L 527.62 457.11 
L 527.85 457.34 
L 528.52 458.05 
L 529.2 458.57 
L 529.51 458.64 
L 529.88 458.59 
L 530.55 458.30 
L 531.23 457.99 
L 531.76 457.88 
L 531.9 457.90 
L 532.58 458.64 
L 533.25 459.88 
L 533.61 460.49 
L 533.92 461.02 
L 534.6 462.35 
L 535.27 463.36 
L 535.5 463.5 
L 535.95 463.64 
L 536.62 463.79 
L 537.3 463.86 
L 537.39 463.86 
L 537.98 463.67 
L 538.65 463.20 
L 539.33 462.79 
L 539.64 462.74 
L 540 462.77 
L 540.67 462.99 
L 541.35 463.31 
L 542.02 463.63 
L 542.7 463.83 
L 543.01 463.86 
L 543.38 463.86 
L 544.05 463.86 
L 544.73 463.86 
L 545.4 463.86 
L 546.08 463.86 
L 546.39 463.86 
L 546.75 463.94 
L 547.42 464.39 
L 548.1 464.99 
L 548.64 465.39 
L 548.77 465.47 
L 549.45 465.88 
L 550.12 466.25 
L 550.8 466.50 
L 550.89 466.51 
L 551.48 466.60 
L 552.15 466.67 
L 552.83 466.73 
L 553.5 466.78 
L 554.17 466.86 
L 554.26 466.88 
L 554.85 467.00 
L 555.52 467.22 
L 556.2 467.48 
L 556.88 467.72 
L 557.55 467.92 
L 558 468 
L 558.23 468.03 
L 558.9 468.08 
L 559.58 468.12 
L 560.25 468.18 
L 560.61 468.23 
L 560.92 468.30 
L 561.6 468.57 
L 562.27 468.95 
L 562.95 469.33 
L 563.26 469.49 
L 563.62 469.66 
L 564.3 470.03 
L 564.98 470.24 
L 565.11 470.25 
L 565.65 470.07 
L 566.33 469.49 
L 567 468.74 
L 567.67 468.07 
L 567.76 468 
L 568.35 467.51 
L 569.02 466.94 
L 569.7 466.57 
L 570.01 466.51 
L 570.38 466.63 
L 571.05 467.29 
L 571.73 468.19 
L 571.86 468.36 
L 572.4 469.30 
L 573.08 470.69 
L 573.75 471.38 
L 574.42 471.38 
L 574.88 471.38 
L 575.1 471.30 
L 575.77 470.35 
L 576.45 468.98 
L 577.12 468 
L 577.8 467.51 
L 578.48 467.11 
L 579.15 466.89 
L 579.38 466.88 
L 579.83 466.99 
L 580.5 467.43 
L 581.17 467.94 
L 581.26 468 
L 581.85 468.43 
L 582.52 468.93 
L 583.11 469.12 
L 583.2 469.12 
L 583.88 469.05 
L 584.55 468.92 
L 585.23 468.80 
L 585.76 468.76 
L 585.9 468.76 
L 586.58 468.76 
L 587.25 468.76 
L 587.92 468.76 
L 588.01 468.76 
L 588.6 468.61 
L 589.27 468.20 
L 589.95 467.77 
L 590.26 467.64 
L 590.62 467.53 
L 591.3 467.34 
L 591.98 467.24 
L 592.11 467.24 
L 592.65 467.31 
L 593.33 467.57 
L 594 467.90 
L 594.67 468.20 
L 595.35 468.35 
L 595.49 468.36 
L 596.02 468.33 
L 596.7 468.21 
L 597.38 468.05 
L 598.05 467.87 
L 598.73 467.73 
L 599.4 467.65 
L 599.62 467.64 
L 600.08 467.69 
L 600.75 467.88 
L 601.42 468.17 
L 602.1 468.47 
L 602.77 468.69 
L 603.36 468.76 
L 603.45 468.76 
L 604.12 468.44 
L 604.8 467.82 
L 605.48 467.12 
L 606.15 466.60 
L 606.38 466.51 
L 606.83 466.39 
L 607.5 466.23 
L 608.17 466.13 
L 608.62 466.11 
L 608.85 466.12 
L 609.52 466.27 
L 610.2 466.54 
L 610.88 466.88 
L 611.55 467.40 
L 612.23 468.16 
L 612.9 468.94 
L 613.49 469.49 
L 613.58 469.55 
L 614.25 470.08 
L 614.92 470.57 
L 615.6 470.91 
L 616.14 471.01 
L 616.27 471.00 
L 616.95 470.65 
L 617.62 470.06 
L 618.3 469.53 
L 618.39 469.49 
L 618.98 469.18 
L 619.65 468.87 
L 620.24 468.76 
L 620.33 468.77 
L 621 468.92 
L 621.67 469.23 
L 622.12 469.49 
L 622.35 469.65 
L 623.02 470.42 
L 623.7 471.36 
L 624.38 472.14 
L 625.05 472.76 
L 625.73 473.28 
L 626.26 473.44 
L 626.4 473.43 
L 627.08 473.06 
L 627.75 472.41 
L 628.42 471.80 
L 628.51 471.74 
L 629.1 471.32 
L 629.77 470.86 
L 630.45 470.51 
L 630.76 470.43 
L 631.12 470.37 
L 631.8 470.29 
L 632.48 470.25 
L 632.61 470.25 
L 633.15 470.32 
L 633.83 470.55 
L 634.5 470.83 
L 635.17 471.23 
L 635.85 471.75 
L 636.52 472.24 
L 637.11 472.5 
L 637.2 472.52 
L 637.88 472.67 
L 638.55 472.78 
L 639.23 472.87 
L 639.9 472.95 
L 640.58 473.04 
L 640.89 473.08 
L 641.25 473.14 
L 641.92 473.24 
L 642.6 473.35 
L 643.27 473.45 
L 643.95 473.54 
L 644.62 473.62 
L 645.3 473.71 
L 645.98 473.80 
L 646.65 473.88 
L 647.33 473.94 
L 648 473.98 
L 648.36 473.99 
L 648.67 473.97 
L 649.35 473.89 
L 650.02 473.76 
L 650.7 473.62 
L 651.38 473.50 
L 652.05 473.45 
L 652.14 473.44 
L 652.73 473.45 
L 653.4 473.47 
L 654.08 473.51 
L 654.75 473.55 
L 655.42 473.60 
L 655.88 473.62 
L 656.1 473.64 
L 656.77 473.70 
L 657.45 473.78 
L 658.12 473.86 
L 658.8 473.93 
L 659.48 473.98 
L 659.61 473.99 
L 660.15 474.00 
L 660.83 474.02 
L 661.5 474.04 
L 662.17 474.05 
L 662.85 474.06 
L 663.39 474.07 
L 663.52 474.08 
" clip-path="url(#p638d60d095)" style="fill: none; stroke: #00ff00; stroke-width: 3; stroke-linecap: square"/>
   </g>
   <g id="line2d_16">
    <path d="M 194.4 45 
L 195.07 68.45 
L 195.39 70.65 
L 195.75 59.95 
L 196.2 45 
L 196.43 45 
L 197.1 45 
L 197.78 45 
L 198.45 45 
L 199.12 45 
L 199.8 45 
L 200.47 45 
L 201.15 45 
L 201.82 45 
L 202.5 45 
L 203.18 45 
L 203.4 45 
L 203.85 53.41 
L 204.3 65.11 
L 204.53 68.26 
L 205.2 75.69 
L 205.51 77.98 
L 205.88 80.11 
L 206.55 83.51 
L 207.22 85.16 
L 207.31 85.19 
L 207.9 80.03 
L 208.57 72.48 
L 208.66 72.31 
L 209.25 81.38 
L 209.7 93.02 
L 209.93 99.47 
L 210.6 117 
L 211.28 118.39 
L 211.5 119.25 
L 211.81 135 
L 211.95 140.50 
L 212.18 148.5 
L 212.62 164.78 
L 213.07 173.7 
L 213.3 171.80 
L 213.97 156.11 
L 214.02 155.25 
L 214.65 145.85 
L 215.24 135 
L 215.32 131.72 
L 215.69 117.31 
L 216 123.77 
L 216.31 135 
L 216.68 149.63 
L 217.12 162 
L 217.35 160.58 
L 218.03 147.83 
L 218.47 142.88 
L 218.7 146.55 
L 219.38 166.5 
L 220.05 166.67 
L 220.72 166.73 
L 221.26 166.86 
L 221.4 166.99 
L 222.07 169.64 
L 222.75 174.94 
L 223.11 178.51 
L 223.43 185.16 
L 223.88 194.4 
L 224.1 195.33 
L 224.55 196.2 
L 224.78 195.73 
L 225.45 192.68 
L 225.54 192.6 
L 225.76 207 
L 226.12 228.83 
L 226.66 249.75 
L 226.8 250.42 
L 227.47 252.11 
L 227.7 252.9 
L 228.15 257.42 
L 228.74 262.49 
L 228.82 262.35 
L 229.5 255.08 
L 229.95 247.5 
L 230.18 241.89 
L 230.62 232.2 
L 230.85 232.21 
L 231.53 232.35 
L 232.2 232.49 
L 232.51 232.51 
L 232.88 221.21 
L 233.24 207 
L 233.55 202.17 
L 234.22 194.29 
L 234.9 191.25 
L 235.57 193.40 
L 236.25 198.82 
L 236.93 205.99 
L 237.01 207 
L 237.6 215.41 
L 238.28 230.50 
L 238.5 237.01 
L 238.95 258.75 
L 239.62 267.03 
L 240.3 271.42 
L 240.75 272.25 
L 240.97 270.57 
L 241.65 257.73 
L 241.88 256.05 
L 242.32 260.41 
L 243 275.58 
L 243.68 286.31 
L 243.76 286.51 
L 244.35 284.46 
L 245.03 279.93 
L 245.61 277.88 
L 245.7 278.78 
L 246.15 297 
L 246.38 309.89 
L 246.74 325.49 
L 247.05 323.69 
L 247.72 311.58 
L 248.4 297 
L 249.07 281.16 
L 249.75 266.70 
L 250.11 264.01 
L 250.43 265.74 
L 251.1 272.66 
L 251.24 273.01 
L 251.78 268.96 
L 252.45 262.27 
L 252.54 262.12 
L 253.03 266.85 
L 253.12 267.90 
L 253.8 277.52 
L 254.47 288.80 
L 254.97 297 
L 255.15 300.19 
L 255.82 314.11 
L 256.41 320.26 
L 256.5 320.17 
L 257.18 314.65 
L 257.85 304.21 
L 258.3 297 
L 258.52 292.69 
L 259.2 279.66 
L 259.29 279.36 
L 259.88 280.15 
L 260.55 282.82 
L 261.23 287.05 
L 261.9 292.5 
L 262.57 309.67 
L 263.25 331.57 
L 263.61 336.01 
L 263.93 335.58 
L 264.6 333.9 
L 265.27 333.47 
L 265.86 333 
L 265.95 332.59 
L 266.62 316.83 
L 267.3 297 
L 267.98 284.13 
L 268.11 283.5 
L 268.65 285.73 
L 269.32 291.47 
L 270 294.75 
L 270.68 294.46 
L 271.12 294.3 
L 271.35 299.34 
L 272.02 337.72 
L 272.25 342.76 
L 272.7 341.64 
L 273.38 336.65 
L 274.05 329.46 
L 274.73 322.08 
L 275.4 316.49 
L 275.99 314.64 
L 276.07 314.69 
L 276.75 317.88 
L 277.43 325.03 
L 278.1 334.71 
L 278.77 345.48 
L 279.45 355.92 
L 280.12 364.60 
L 280.8 370.08 
L 281.25 371.25 
L 281.48 370.68 
L 282.15 363.24 
L 282.82 350.25 
L 283.5 335.57 
L 284.18 323.09 
L 284.85 316.69 
L 284.99 316.49 
L 285.52 318.16 
L 285.75 318.6 
L 286.2 316.99 
L 286.88 312.35 
L 287.24 311.26 
L 287.55 312.22 
L 288.23 319.36 
L 288.9 330.36 
L 289.57 341.49 
L 290.25 349.00 
L 290.61 350.24 
L 290.93 349.33 
L 291.6 342.40 
L 292.27 331.27 
L 292.95 319.09 
L 293.62 309.01 
L 294.3 304.19 
L 294.39 304.11 
L 294.98 321.27 
L 295.51 336.74 
L 295.65 336.84 
L 296.32 337.07 
L 297 337.23 
L 297.36 337.5 
L 297.68 348.64 
L 297.76 350.24 
L 298.35 347.16 
L 299.02 343.35 
L 299.7 358.81 
L 300.38 374.26 
L 301.05 366.73 
L 301.73 349.41 
L 302.4 330.24 
L 303.07 317.15 
L 303.39 315.36 
L 303.75 317.55 
L 304.43 330.88 
L 305.1 350.75 
L 305.77 370.65 
L 306.45 384.04 
L 306.76 386.24 
L 307.12 386.82 
L 307.8 387.60 
L 308.25 387.76 
L 308.48 387.09 
L 309.15 378.90 
L 309.82 366.70 
L 310.5 357.17 
L 310.86 355.5 
L 311.18 356.46 
L 311.85 363.99 
L 312.52 376.59 
L 313.2 391.40 
L 313.88 405.54 
L 314.55 416.13 
L 315.23 420.3 
L 315.9 415.56 
L 316.57 403.58 
L 317.25 387.70 
L 317.93 371.26 
L 318.6 357.61 
L 319.27 350.08 
L 319.5 349.51 
L 319.95 350.38 
L 320.62 354.14 
L 320.99 356.85 
L 321.3 360.17 
L 321.98 372.56 
L 322.51 387 
L 322.65 392.68 
L 322.88 403.51 
L 323.32 417.16 
L 323.64 424.71 
L 324 433.49 
L 324.63 443.07 
L 324.68 443.02 
L 325.35 433.17 
L 326.02 420.26 
L 326.25 418.77 
L 326.7 418.27 
L 327.38 417.83 
L 327.69 417.78 
L 328.05 417.80 
L 328.73 418.02 
L 329.4 418.60 
L 329.54 418.77 
L 329.85 429.93 
L 330.07 429.05 
L 330.75 421.33 
L 331.15 418.77 
L 331.43 419.06 
L 332.1 421.92 
L 332.50 424.71 
L 332.77 429.79 
L 333.45 445.05 
L 334.12 443.09 
L 334.8 438.25 
L 335.48 432.13 
L 336.11 426.64 
L 336.15 426.28 
L 336.82 419.00 
L 337.27 416.48 
L 337.5 416.48 
L 338.18 416.56 
L 338.85 416.80 
L 339.39 417.15 
L 339.52 419.32 
L 339.88 431.24 
L 340.2 435.82 
L 340.88 442.54 
L 341.32 446.99 
L 341.55 450.08 
L 342.23 458.63 
L 342.31 458.82 
L 342.9 458.82 
L 343.57 458.82 
L 343.62 458.82 
L 344.25 455.05 
L 344.93 447.31 
L 345.6 443.07 
L 346.27 443.40 
L 346.90 443.7 
L 346.95 443.69 
L 347.62 442.01 
L 348.3 439.77 
L 348.57 439.47 
L 348.98 439.89 
L 349.65 442.73 
L 349.88 444.38 
L 350.19 455.85 
L 350.32 455.82 
L 351 455.04 
L 351.68 453.69 
L 352.35 452.43 
L 352.49 452.25 
L 353.02 451.82 
L 353.7 451.16 
L 353.83 450.9 
L 354.38 437.48 
L 354.46 436.5 
L 355.05 435.10 
L 355.73 434.52 
L 355.77 434.52 
L 356.4 439.95 
L 357.07 447.66 
L 357.75 449.79 
L 358.43 452.25 
L 359.06 462.11 
L 359.1 462.38 
L 359.77 465.75 
L 360.45 467.52 
L 360.72 467.69 
L 361.12 464.59 
L 361.8 454.61 
L 362.02 452.93 
L 362.48 451.93 
L 363.01 450.9 
L 363.15 450.37 
L 363.82 445.68 
L 364.32 443.7 
L 364.5 444.47 
L 365.18 455.79 
L 365.85 465.82 
L 365.94 466.02 
L 366.52 463.87 
L 367.2 459.24 
L 367.61 457.51 
L 367.88 456.99 
L 368.55 456.21 
L 368.60 456.21 
L 369.23 457.75 
L 369.9 459.45 
L 370.57 458.70 
L 371.25 457.18 
L 371.93 455.99 
L 372.19 455.85 
L 372.6 458.52 
L 373.19 464.08 
L 373.27 464.38 
L 373.95 465.94 
L 374.62 466.98 
L 375.12 468 
L 375.3 468.56 
L 375.98 471.57 
L 376.65 473.77 
L 376.79 473.85 
L 377.32 469.81 
L 377.77 466.65 
L 378 466.59 
L 378.68 466.50 
L 379.35 466.39 
L 379.39 466.38 
L 380.02 460.02 
L 380.7 451.28 
L 380.83 450.9 
L 381.38 451.18 
L 382.05 452.22 
L 382.37 452.93 
L 382.73 455.64 
L 383.4 464.84 
L 383.67 467.32 
L 384.07 469.66 
L 384.75 472.79 
L 385.33 473.85 
L 385.43 473.81 
L 386.1 471.34 
L 386.77 466.25 
L 387.45 460.24 
L 388.12 455.04 
L 388.8 452.34 
L 388.94 452.25 
L 389.48 454.56 
L 390.15 461.16 
L 390.82 467.08 
L 390.87 467.32 
L 391.5 470.60 
L 392.18 473.86 
L 392.85 476.25 
L 393.52 477.18 
L 394.2 475.93 
L 394.88 472.85 
L 395.55 468.92 
L 396.23 465.14 
L 396.45 464.08 
L 396.9 461.88 
L 397.57 458.12 
L 398.25 454.68 
L 398.93 452.53 
L 399.24 452.25 
L 399.6 454.28 
L 400.27 464.30 
L 400.73 470.61 
L 400.95 473.27 
L 401.4 476.87 
L 401.62 476.69 
L 402.3 474.51 
L 402.98 470.81 
L 403.65 466.87 
L 404.32 463.95 
L 405 461.88 
L 405.68 460.12 
L 406.31 459.45 
L 406.35 459.46 
L 407.02 461.76 
L 407.7 466.48 
L 408.38 471.33 
L 408.96 473.85 
L 409.05 474.03 
L 409.73 475.33 
L 410.4 476.37 
L 411.07 477.02 
L 411.57 477.18 
L 411.75 476.62 
L 412.43 468.73 
L 412.88 463.95 
L 413.1 462.61 
L 413.77 459.24 
L 414.18 458.50 
L 414.45 458.68 
L 415.12 460.33 
L 415.8 463.05 
L 416.48 465.97 
L 416.83 467.32 
L 417.15 468.52 
L 417.82 471.54 
L 418.5 474.17 
L 419.13 475.2 
L 419.18 475.19 
L 419.85 473.29 
L 420.52 469.34 
L 421.2 465.19 
L 421.43 464.08 
L 421.88 461.88 
L 422.55 458.27 
L 423.23 455.34 
L 423.86 454.23 
L 423.9 454.23 
L 424.57 455.09 
L 425.25 457.17 
L 425.34 457.51 
L 425.93 463.81 
L 426.01 464.08 
L 426.6 463.66 
L 427.00 463.41 
L 427.27 464.90 
L 427.95 474.36 
L 428.31 476.87 
L 428.62 476.05 
L 429.3 470.48 
L 429.93 463.95 
L 429.98 463.51 
L 430.65 455.52 
L 430.88 453.74 
L 431.32 451.51 
L 431.82 450.36 
L 432 450.39 
L 432.68 450.99 
L 433.35 452.28 
L 433.49 452.61 
L 434.02 455.95 
L 434.43 461.25 
L 434.65 468.76 
L 434.7 468.81 
L 435.38 469.03 
L 435.56 469.12 
L 436.05 472.05 
L 436.73 477.52 
L 436.86 477.76 
L 437.4 476.12 
L 438.07 471.24 
L 438.39 468.76 
L 438.75 464.93 
L 439.43 457.79 
L 439.51 457.51 
L 440.1 456.70 
L 440.77 456.14 
L 441.36 455.99 
L 441.45 456.04 
L 442.12 458.90 
L 442.49 461.25 
L 442.8 464.29 
L 443.25 468.76 
L 443.48 470.05 
L 444.15 473.53 
L 444.82 476.04 
L 445.5 477 
L 446.18 472.50 
L 446.62 468.76 
L 446.85 467.57 
L 447.52 464.60 
L 447.75 464.26 
L 448.2 464.11 
L 448.88 463.95 
L 449.55 463.87 
L 450 463.86 
L 450.23 463.99 
L 450.9 465.47 
L 451.49 467.24 
L 451.57 467.50 
L 452.25 469.81 
L 452.93 472.53 
L 453.38 474.39 
L 453.6 475.51 
L 454.27 478.47 
L 454.32 478.49 
L 454.95 473.21 
L 455.26 471.01 
L 455.62 470.57 
L 456.3 470.02 
L 456.39 469.89 
L 456.98 466.90 
L 457.65 462.12 
L 457.88 461.25 
L 458.32 460.27 
L 458.82 459.76 
L 459 459.83 
L 459.68 461.02 
L 459.76 461.25 
L 460.35 466.79 
L 460.89 472.5 
L 461.02 473.22 
L 461.7 476.39 
L 462.38 477.76 
L 463.05 473.42 
L 463.5 470.61 
L 463.73 470.23 
L 464.4 469.39 
L 464.99 469.12 
L 465.07 469.13 
L 465.75 469.77 
L 466.43 471.15 
L 466.51 471.38 
L 467.1 475.63 
L 467.46 477.36 
L 467.77 477.00 
L 468.45 474.76 
L 469.12 472.80 
L 469.31 472.68 
L 469.8 473.30 
L 470.48 475.16 
L 470.61 475.51 
L 471.15 477.36 
L 471.82 479.65 
L 472.14 480.01 
L 472.5 478.99 
L 473.18 474.45 
L 473.62 472.5 
L 473.85 472.20 
L 474.52 471.46 
L 475.2 470.93 
L 475.88 470.65 
L 476.24 470.61 
L 476.55 470.75 
L 477.23 472.06 
L 477.36 472.5 
L 477.76 478.89 
L 477.9 478.99 
L 478.57 479.37 
L 479.25 479.56 
L 479.93 479.61 
L 480.01 479.61 
L 480.6 479.31 
L 481.27 478.46 
L 481.95 477.47 
L 482.62 476.76 
L 482.99 476.64 
L 483.3 477.32 
L 483.75 478.49 
L 483.98 478.47 
L 484.65 478.24 
L 485.32 477.85 
L 486 477.38 
L 486.68 476.95 
L 487.35 476.67 
L 487.49 476.64 
L 488.02 476.55 
L 488.7 476.45 
L 489.38 476.42 
L 490.05 476.97 
L 490.73 477.93 
L 491.26 478.31 
L 491.4 478.28 
L 492.07 477.57 
L 492.75 476.82 
L 492.93 476.77 
L 493.43 477.09 
L 494.1 477.94 
L 494.64 478.31 
L 494.77 478.31 
L 495.45 478.31 
L 496.12 478.31 
L 496.8 478.63 
L 497.48 479.21 
L 498.01 479.43 
L 498.15 479.43 
L 498.82 479.29 
L 499.5 479.02 
L 500.18 477.81 
L 500.85 475.98 
L 501.39 475.29 
L 501.52 475.30 
L 502.2 475.49 
L 502.88 475.65 
L 503.55 474.52 
L 504.23 473.10 
L 504.36 473.04 
L 504.9 474.14 
L 505.57 476.75 
L 505.89 477.54 
L 506.25 478.06 
L 506.61 478.31 
L 506.93 478.27 
L 507.6 478.04 
L 508.27 477.74 
L 508.86 477.54 
L 508.95 477.52 
L 509.62 477.37 
L 510.3 477.25 
L 510.98 477.18 
L 511.11 477.18 
L 511.65 477.49 
L 512.33 478.34 
L 513 479.02 
L 513.67 479.36 
L 514.35 479.63 
L 515.02 479.78 
L 515.25 479.79 
L 515.7 479.72 
L 516.38 479.40 
L 517.05 478.96 
L 517.5 478.67 
L 517.73 478.51 
L 518.4 477.88 
L 519.08 477.22 
L 519.75 476.81 
L 519.98 476.77 
L 520.42 477.01 
L 521.1 477.92 
L 521.77 478.84 
L 522 479.02 
L 522.45 479.29 
L 523.12 479.64 
L 523.8 479.87 
L 524.25 479.93 
L 524.48 479.92 
L 525.15 479.89 
L 525.83 479.82 
L 526.5 479.75 
L 527.17 479.69 
L 527.85 479.66 
L 527.99 479.65 
L 528.52 479.65 
L 529.2 479.65 
L 529.88 479.65 
L 530.55 479.65 
L 531.23 479.65 
L 531.9 479.65 
L 532.49 479.65 
L 532.58 479.65 
L 533.25 479.38 
L 533.92 478.83 
L 534.6 478.20 
L 535.27 477.71 
L 535.86 477.54 
L 535.95 477.54 
L 536.62 477.72 
L 537.3 477.90 
L 537.39 477.9 
L 537.98 477.28 
L 538.65 475.91 
L 539.24 475.29 
L 539.33 475.31 
L 540 476.51 
L 540.67 478.32 
L 541.12 479.02 
L 541.35 479.17 
L 542.02 479.55 
L 542.7 479.76 
L 543.01 479.79 
L 543.38 479.70 
L 544.05 479.22 
L 544.73 478.62 
L 545.26 478.31 
L 545.4 478.26 
L 546.08 478.12 
L 546.75 478.00 
L 547.11 477.9 
L 547.42 477.73 
L 548.1 477.17 
L 548.77 476.78 
L 548.87 476.77 
L 549.45 477.16 
L 550.12 478.00 
L 550.49 478.31 
L 550.8 478.45 
L 551.48 478.72 
L 552.15 478.92 
L 552.74 479.02 
L 552.83 479.04 
L 553.5 479.12 
L 554.17 479.20 
L 554.85 479.27 
L 555.52 479.33 
L 556.2 479.38 
L 556.88 479.41 
L 557.55 479.43 
L 558 479.43 
L 558.23 479.43 
L 558.9 479.39 
L 559.58 479.32 
L 560.25 479.20 
L 560.92 479.05 
L 561.01 479.02 
L 561.6 478.21 
L 562.27 476.56 
L 562.86 475.65 
L 562.95 475.60 
L 563.62 475.34 
L 563.99 475.29 
L 564.3 475.30 
L 564.98 475.40 
L 565.65 475.58 
L 565.88 475.65 
L 566.33 476.17 
L 567 477.70 
L 567.67 478.95 
L 567.76 479.02 
L 568.35 479.39 
L 569.02 479.72 
L 569.7 479.90 
L 570.01 479.93 
L 570.38 479.84 
L 571.05 479.36 
L 571.73 478.73 
L 572.26 478.31 
L 572.4 478.23 
L 573.08 477.87 
L 573.75 477.54 
L 574.42 477.11 
L 575.1 476.79 
L 575.24 476.77 
L 575.77 477.21 
L 576.45 478.14 
L 576.76 478.31 
L 577.12 478.26 
L 577.8 478.07 
L 578.48 477.91 
L 578.61 477.9 
L 579.15 478.34 
L 579.83 479.26 
L 580.14 479.43 
L 580.5 479.41 
L 581.17 479.27 
L 581.85 479.07 
L 581.99 479.02 
L 582.52 478.78 
L 583.2 478.34 
L 583.88 477.9 
L 584.55 477.44 
L 585.23 476.94 
L 585.9 476.55 
L 586.49 476.42 
L 586.58 476.43 
L 587.25 477.09 
L 587.92 478.15 
L 588.38 478.67 
L 588.6 478.83 
L 589.27 479.30 
L 589.95 479.61 
L 590.26 479.65 
L 590.62 479.61 
L 591.3 479.37 
L 591.98 478.99 
L 592.51 478.67 
L 592.65 478.58 
L 593.33 477.93 
L 594 477.54 
L 594.67 478.10 
L 595.35 479.23 
L 596.02 480.08 
L 596.25 480.15 
L 596.7 479.88 
L 597.38 479.01 
L 597.74 478.67 
L 598.05 478.47 
L 598.73 478.07 
L 599.4 477.75 
L 600.08 477.56 
L 600.39 477.54 
L 600.75 477.58 
L 601.42 477.84 
L 602.1 478.23 
L 602.24 478.31 
L 602.77 478.83 
L 603.45 479.70 
L 604.12 480.15 
L 604.8 480.15 
L 605.48 480.15 
L 606.15 480.15 
L 606.83 480.15 
L 607.14 480.15 
L 607.5 480.04 
L 608.17 479.44 
L 608.85 478.76 
L 608.99 478.67 
L 609.52 478.30 
L 610.2 477.82 
L 610.88 477.43 
L 611.55 477.20 
L 611.82 477.18 
L 612.23 477.34 
L 612.9 478.04 
L 613.49 478.67 
L 613.58 478.74 
L 614.25 479.42 
L 614.92 480.01 
L 615.38 480.15 
L 615.6 480.13 
L 616.27 479.80 
L 616.95 479.10 
L 617.26 478.67 
L 617.62 476.90 
L 617.99 475.29 
L 618.3 475.10 
L 618.98 474.84 
L 619.65 474.75 
L 619.70 474.75 
L 620.33 474.99 
L 621 475.65 
L 621.67 477.71 
L 621.76 477.9 
L 622.35 478.80 
L 623.02 479.62 
L 623.7 480.09 
L 624.01 480.15 
L 624.38 480.12 
L 625.05 479.91 
L 625.73 479.51 
L 626.4 478.93 
L 626.99 478.31 
L 627.08 478.16 
L 627.75 475.57 
L 628.11 474.52 
L 628.42 474.12 
L 629.1 473.50 
L 629.46 473.4 
L 629.77 473.52 
L 630.45 474.37 
L 630.76 474.93 
L 631.12 476.38 
L 631.8 479.68 
L 631.89 479.79 
L 632.48 479.99 
L 633.15 480.12 
L 633.74 480.15 
L 633.83 480.13 
L 634.5 479.20 
L 635.17 477.71 
L 635.26 477.54 
L 635.85 476.23 
L 636.39 475.29 
L 636.52 475.17 
L 637.2 474.77 
L 637.34 474.75 
L 637.88 475.30 
L 638.55 476.35 
L 638.64 476.42 
L 639.23 476.60 
L 639.76 476.77 
L 639.9 476.89 
L 640.58 478.22 
L 641.25 479.43 
L 641.92 479.89 
L 642.6 480.14 
L 642.74 480.15 
L 643.27 480.15 
L 643.95 480.15 
L 644.26 480.15 
L 644.62 478.58 
L 644.99 476.42 
L 645.3 475.49 
L 645.98 474.00 
L 646.51 473.04 
L 646.65 472.79 
L 647.33 471.56 
L 647.82 471.15 
L 648 471.20 
L 648.67 472.11 
L 649.12 473.04 
L 649.35 473.77 
L 650.02 476.97 
L 650.25 477.54 
L 650.7 478.05 
L 651.38 478.63 
L 652.05 478.96 
L 652.5 479.02 
L 652.73 479.02 
L 653.4 478.92 
L 654.08 478.74 
L 654.75 478.53 
L 655.42 478.33 
L 655.51 478.31 
L 656.1 478.13 
L 656.77 477.90 
L 657.45 477.74 
L 657.76 477.72 
L 658.12 477.73 
L 658.8 477.78 
L 659.48 477.88 
L 659.61 477.9 
L 660.15 478.26 
L 660.83 479.11 
L 661.5 479.79 
L 662.17 480.17 
L 662.85 480.46 
L 663.39 480.56 
L 663.52 480.56 
L 664.2 480.58 
L 664.88 480.59 
L 665.55 480.60 
L 666 480.6 
" clip-path="url(#p638d60d095)" style="fill: none; stroke: #0000ff; stroke-width: 3; stroke-linecap: square"/>
   </g>
   <g id="line2d_17">
    <path d="M 194.18 54 
L 194.58 65.11 
L 194.85 73.79 
L 194.90 75.02 
L 195.48 86.98 
L 195.53 87.46 
L 196.06 91.22 
L 196.2 91.31 
L 196.88 91.48 
L 197.55 91.69 
L 197.69 91.8 
L 198 104.85 
L 198.22 107.57 
L 198.9 111.98 
L 199.08 112.19 
L 199.57 106.38 
L 200.25 89.98 
L 200.84 82.22 
L 200.93 82.28 
L 201.6 86.29 
L 202.19 93.02 
L 202.28 94.48 
L 202.95 114.17 
L 203.09 117 
L 203.62 124.41 
L 203.72 124.65 
L 204.3 121.82 
L 204.97 116.92 
L 205.2 116.42 
L 205.65 117.72 
L 206.32 122.35 
L 206.41 122.98 
L 207 128.13 
L 207.22 130.5 
L 207.68 136.02 
L 207.76 137.25 
L 208.35 146.25 
L 209.03 151.31 
L 209.7 154.73 
L 210.01 156.01 
L 210.38 157.49 
L 210.74 158.26 
L 211.05 158.01 
L 211.72 156.41 
L 212.4 154.94 
L 212.62 154.8 
L 213.07 157.12 
L 213.75 163.49 
L 214.43 167.68 
L 215.1 171.64 
L 215.24 172.49 
L 215.78 175.81 
L 216.36 180 
L 216.45 180.83 
L 217.12 188.92 
L 217.35 191.25 
L 217.8 194.90 
L 218.47 199.43 
L 218.61 200.25 
L 219.15 202.98 
L 219.74 206.1 
L 219.82 206.81 
L 220.5 212.85 
L 221.18 213.44 
L 221.85 213.95 
L 221.99 214.2 
L 222.39 226.49 
L 222.53 226.46 
L 223.2 225.82 
L 223.88 224.84 
L 224.55 224.25 
L 224.64 224.24 
L 225.22 228.21 
L 225.36 228.74 
L 225.9 229.03 
L 226.57 229.43 
L 226.62 229.5 
L 226.75 240.75 
L 227.25 240.63 
L 227.93 240.26 
L 228.6 240.00 
L 228.74 239.99 
L 229.28 241.66 
L 229.95 246.55 
L 230.26 248.99 
L 230.62 252.09 
L 231.3 259.10 
L 231.75 263.25 
L 231.97 264.99 
L 232.65 269.79 
L 233.24 273.01 
L 233.32 273.40 
L 234 275.49 
L 234.68 277.79 
L 234.76 278.24 
L 235.35 283.92 
L 235.89 289.49 
L 236.03 290.43 
L 236.61 293.26 
L 236.7 293.25 
L 237.38 292.57 
L 238.05 291.31 
L 238.72 290.17 
L 239.26 289.8 
L 239.4 290.45 
L 239.99 297.76 
L 240.07 298.14 
L 240.75 300.12 
L 241.43 301.35 
L 241.88 302.26 
L 242.1 302.79 
L 242.78 304.32 
L 243.45 305.93 
L 243.76 306.76 
L 244.12 307.81 
L 244.8 310.00 
L 245.47 312.35 
L 246.01 314.24 
L 246.15 314.73 
L 246.82 317.65 
L 247.5 319.5 
L 248.18 319.80 
L 248.85 319.95 
L 249.39 320.26 
L 249.53 320.73 
L 250.11 325.49 
L 250.2 325.89 
L 250.88 328.08 
L 251.55 329.84 
L 252 331.51 
L 252.22 333.03 
L 252.9 339.06 
L 253.12 339.75 
L 253.57 339.70 
L 254.25 339.52 
L 254.93 339.35 
L 255.38 339.3 
L 255.6 343.01 
L 255.74 345.01 
L 256.27 346.59 
L 256.95 347.65 
L 257.62 348.32 
L 257.99 348.75 
L 258.3 349.13 
L 258.98 349.79 
L 259.65 350.61 
L 259.88 351 
L 260.32 352.65 
L 261 355.5 
L 261.68 356.39 
L 262.35 357.37 
L 262.49 357.75 
L 262.89 363.01 
L 263.02 363.36 
L 263.7 364.39 
L 264.01 364.5 
L 264.38 364.35 
L 265.05 363.62 
L 265.73 363.04 
L 265.86 363.01 
L 266.4 363.65 
L 267.07 365.65 
L 267.39 366.75 
L 267.75 368.90 
L 268.11 370.49 
L 268.43 370.57 
L 269.1 370.65 
L 269.77 370.69 
L 270.36 370.8 
L 270.45 370.86 
L 271.12 372.59 
L 271.8 374.23 
L 271.89 374.26 
L 272.48 374.08 
L 273.15 373.68 
L 273.74 373.5 
L 273.82 373.54 
L 274.5 375.21 
L 274.86 375.75 
L 275.18 375.54 
L 275.85 373.96 
L 276.39 372.01 
L 276.52 371.24 
L 277.11 366.75 
L 277.2 366.50 
L 277.88 364.81 
L 278.55 363.52 
L 279.23 362.67 
L 279.9 362.28 
L 280.12 362.25 
L 280.57 362.73 
L 281.25 363.6 
L 281.93 362.56 
L 282.6 359.97 
L 283.27 356.64 
L 283.5 355.5 
L 283.95 352.10 
L 284.62 345.94 
L 284.99 344.25 
L 285.3 343.83 
L 285.98 343.36 
L 286.51 342.76 
L 286.65 342.44 
L 287.32 338.71 
L 288 333.45 
L 288.68 327.24 
L 289.35 319.92 
L 290.02 313.21 
L 290.25 311.4 
L 290.7 308.49 
L 291.38 304.91 
L 292.05 300.82 
L 292.14 300.15 
L 292.73 293.63 
L 293.18 289.8 
L 293.4 289.04 
L 293.99 288 
L 294.07 288.03 
L 294.75 289.39 
L 295.43 291.32 
L 295.88 291.87 
L 296.1 291.34 
L 296.77 285.66 
L 297.45 279.98 
L 297.68 279.45 
L 298.12 279.56 
L 298.8 279.97 
L 299.48 280.32 
L 299.7 280.35 
L 300.15 279.69 
L 300.82 277.02 
L 301.5 273.78 
L 302.18 271.66 
L 302.4 271.49 
L 302.85 271.71 
L 303.52 272.86 
L 304.2 274.87 
L 304.79 277.2 
L 304.88 277.69 
L 305.55 285.63 
L 305.73 288.45 
L 306.23 299.25 
L 306.9 305.94 
L 307.44 310.5 
L 307.57 311.92 
L 308.25 319.67 
L 308.43 321.75 
L 308.93 327.44 
L 309.42 333 
L 309.6 334.92 
L 310.27 341.86 
L 310.5 344.25 
L 310.95 349.27 
L 311.49 355.5 
L 311.62 357.08 
L 312.3 365.17 
L 312.44 366.75 
L 312.98 372.92 
L 313.43 378 
L 313.65 380.52 
L 314.32 388.16 
L 314.42 389.25 
L 315 396.94 
L 315.27 400.5 
L 315.68 405.61 
L 315.81 407.25 
L 316.35 413.77 
L 316.75 418.14 
L 317.02 420.68 
L 317.7 426.41 
L 318.38 431.24 
L 319.05 435.32 
L 319.73 438.88 
L 320.36 441.76 
L 320.4 441.96 
L 321.07 444.56 
L 321.75 446.84 
L 322.43 449.04 
L 322.96 450.9 
L 323.1 451.40 
L 323.77 454.04 
L 324.45 456.71 
L 325.12 459.05 
L 325.26 459.45 
L 325.8 461.03 
L 326.48 462.90 
L 327.15 464.29 
L 327.56 464.71 
L 327.82 464.85 
L 328.5 465.04 
L 329.18 465.21 
L 329.54 465.39 
L 329.85 465.82 
L 330.52 467.47 
L 330.84 468 
L 331.2 468.30 
L 331.88 468.66 
L 332.55 469.05 
L 332.82 469.31 
L 333.23 470.16 
L 333.9 472.17 
L 334.12 472.59 
L 334.57 473.12 
L 335.25 473.77 
L 335.93 474.25 
L 336.6 474.54 
L 336.74 474.57 
L 337.27 474.66 
L 337.95 474.73 
L 338.62 474.79 
L 339.3 474.87 
L 339.39 474.88 
L 339.98 475.02 
L 340.65 475.26 
L 341.32 475.54 
L 342 475.82 
L 342.68 476.05 
L 343.31 476.19 
L 343.35 476.20 
L 344.02 476.29 
L 344.7 476.38 
L 345.38 476.45 
L 346.05 476.51 
L 346.73 476.54 
L 347.26 476.55 
L 347.4 476.55 
L 348.07 476.55 
L 348.75 476.55 
L 349.43 476.55 
L 350.1 476.55 
L 350.77 476.55 
L 351.18 476.55 
L 351.45 476.54 
L 352.12 476.46 
L 352.8 476.31 
L 353.48 476.13 
L 354.15 475.95 
L 354.46 475.88 
L 354.82 475.79 
L 355.5 475.64 
L 356.18 475.48 
L 356.85 475.31 
L 357.52 475.13 
L 358.2 474.95 
L 358.43 474.88 
L 358.88 474.74 
L 359.55 474.46 
L 360.23 474.16 
L 360.9 473.88 
L 361.57 473.68 
L 362.25 473.58 
L 362.34 473.58 
L 362.93 473.62 
L 363.6 473.74 
L 364.27 473.91 
L 364.95 474.07 
L 365.62 474.20 
L 366.3 474.25 
L 366.98 474.17 
L 367.65 473.95 
L 368.32 473.67 
L 369 473.41 
L 369.54 473.26 
L 369.68 473.24 
L 370.35 473.10 
L 371.02 472.96 
L 371.7 472.84 
L 372.38 472.73 
L 373.05 472.65 
L 373.73 472.60 
L 374.18 472.59 
L 374.4 472.60 
L 375.07 472.68 
L 375.75 472.80 
L 376.43 472.89 
L 376.79 472.90 
L 377.1 472.89 
L 377.77 472.80 
L 378.45 472.66 
L 379.12 472.50 
L 379.8 472.36 
L 380.48 472.28 
L 380.7 472.27 
L 381.15 472.30 
L 381.82 472.40 
L 382.5 472.55 
L 383.18 472.71 
L 383.85 472.84 
L 384.52 472.90 
L 384.66 472.90 
L 385.2 472.90 
L 385.88 472.90 
L 386.55 472.90 
L 387.23 472.90 
L 387.9 472.90 
L 388.57 472.90 
L 389.25 472.90 
L 389.93 472.90 
L 390.6 472.90 
L 391.23 472.90 
L 391.27 472.90 
L 391.95 472.77 
L 392.62 472.47 
L 393.3 472.11 
L 393.98 471.79 
L 394.65 471.61 
L 394.83 471.6 
L 395.32 471.71 
L 396 472.13 
L 396.68 472.66 
L 397.35 473.11 
L 397.8 473.26 
L 398.02 473.30 
L 398.7 473.40 
L 399.38 473.48 
L 400.05 473.54 
L 400.73 473.58 
L 401.08 473.58 
L 401.4 473.58 
L 402.07 473.58 
L 402.75 473.58 
L 403.43 473.58 
L 404.1 473.58 
L 404.77 473.58 
L 405 473.58 
L 405.45 473.46 
L 406.12 472.94 
L 406.8 472.18 
L 406.98 471.96 
L 407.48 471.12 
L 408.15 469.45 
L 408.82 467.66 
L 408.96 467.32 
L 409.5 465.84 
L 410.18 464.03 
L 410.58 463.41 
L 410.85 463.19 
L 411.52 462.80 
L 411.88 462.74 
L 412.2 462.98 
L 412.88 464.56 
L 413.19 465.39 
L 413.55 466.44 
L 414.23 468.83 
L 414.86 470.61 
L 414.9 470.70 
L 415.57 471.89 
L 416.25 472.82 
L 416.83 473.26 
L 416.93 473.30 
L 417.6 473.56 
L 418.27 473.75 
L 418.95 473.87 
L 419.44 473.89 
L 419.62 473.89 
L 420.3 473.85 
L 420.98 473.77 
L 421.65 473.66 
L 422.32 473.54 
L 423 473.42 
L 423.68 473.33 
L 424.35 473.27 
L 424.71 473.26 
L 425.02 473.30 
L 425.7 473.58 
L 426.38 473.96 
L 427.05 474.23 
L 427.32 474.25 
L 427.73 473.99 
L 428.4 472.93 
L 429.07 472.27 
L 429.75 472.77 
L 430.43 473.62 
L 430.88 473.94 
L 431.1 473.99 
L 431.77 474.10 
L 432.45 474.19 
L 433.12 474.25 
L 433.8 474.30 
L 434.48 474.35 
L 435.01 474.39 
L 435.15 474.40 
L 435.82 474.45 
L 436.5 474.48 
L 437.18 474.50 
L 437.85 474.53 
L 438.52 474.57 
L 439.2 474.62 
L 439.88 474.70 
L 440.24 474.75 
L 440.55 474.99 
L 441.23 475.83 
L 441.36 475.88 
L 441.9 475.84 
L 442.57 475.72 
L 443.25 475.54 
L 443.93 475.36 
L 444.6 475.20 
L 445.27 475.12 
L 445.5 475.11 
L 445.95 475.20 
L 446.62 475.56 
L 447.3 475.98 
L 447.98 476.23 
L 448.11 476.24 
L 448.65 476.13 
L 449.32 475.79 
L 450 475.31 
L 450.68 474.84 
L 451.35 474.49 
L 451.89 474.39 
L 452.02 474.41 
L 452.7 474.85 
L 453.38 475.40 
L 453.74 475.51 
L 454.05 475.43 
L 454.73 474.97 
L 455.26 474.75 
L 455.4 474.77 
L 456.07 475.19 
L 456.75 475.84 
L 457.43 476.23 
L 457.51 476.24 
L 458.1 476.21 
L 458.77 476.15 
L 459.45 476.07 
L 460.12 475.98 
L 460.8 475.90 
L 461.25 475.88 
L 461.48 475.87 
L 462.15 475.84 
L 462.82 475.83 
L 463.5 475.81 
L 464.18 475.80 
L 464.85 475.79 
L 465.52 475.78 
L 466.2 475.77 
L 466.88 475.76 
L 467.55 475.74 
L 468.23 475.72 
L 468.76 475.69 
L 468.9 475.69 
L 469.57 475.61 
L 470.25 475.50 
L 470.93 475.39 
L 471.6 475.34 
L 471.74 475.33 
L 472.27 475.34 
L 472.95 475.37 
L 473.62 475.43 
L 474.3 475.50 
L 474.98 475.60 
L 475.51 475.69 
L 475.65 475.74 
L 476.32 476.28 
L 477 476.88 
L 477.36 477 
L 477.68 476.99 
L 478.35 476.92 
L 479.02 476.79 
L 479.61 476.64 
L 479.7 476.60 
L 480.38 475.61 
L 481.05 474.34 
L 481.5 473.99 
L 481.73 473.99 
L 482.4 473.99 
L 483.07 473.99 
L 483.75 473.99 
L 484.43 473.99 
L 484.51 473.99 
L 485.1 474.47 
L 485.77 475.76 
L 486 476.24 
L 486.45 477.66 
L 487.12 479.61 
L 487.8 480.13 
L 488.48 480.40 
L 488.7 480.42 
L 489.15 480.42 
L 489.82 480.42 
L 490.5 480.42 
L 491.18 480.42 
L 491.26 480.42 
L 491.85 480.42 
L 492.52 480.42 
L 493.2 480.43 
L 493.88 480.44 
L 494.55 480.45 
L 495.23 480.46 
L 495.9 480.47 
L 496.57 480.48 
L 497.25 480.49 
L 497.93 480.50 
L 498.6 480.50 
L 499.27 480.51 
L 499.5 480.51 
L 499.95 480.51 
L 500.62 480.51 
L 501.3 480.52 
L 501.98 480.52 
L 502.65 480.52 
L 503.32 480.53 
L 504 480.53 
L 504.68 480.53 
L 505.35 480.53 
L 506.02 480.54 
L 506.7 480.54 
L 507.38 480.54 
L 508.05 480.54 
L 508.73 480.55 
L 509.4 480.55 
L 510.07 480.55 
L 510.75 480.55 
L 511.43 480.55 
L 512.1 480.56 
L 512.77 480.56 
L 513.45 480.56 
L 514.12 480.56 
L 514.8 480.56 
L 515.48 480.57 
L 516.15 480.57 
L 516.83 480.57 
L 517.5 480.57 
L 518.17 480.57 
L 518.85 480.57 
L 519.52 480.58 
L 520.2 480.58 
L 520.88 480.58 
L 521.55 480.58 
L 522.23 480.58 
L 522.9 480.58 
L 523.58 480.58 
L 524.25 480.59 
L 524.92 480.59 
L 525.6 480.59 
L 526.27 480.59 
L 526.95 480.59 
L 527.62 480.59 
L 528.3 480.59 
L 528.98 480.59 
L 529.65 480.59 
L 530.33 480.59 
L 531 480.60 
L 531.67 480.60 
L 532.35 480.60 
L 533.02 480.60 
L 533.7 480.60 
L 534.38 480.60 
L 535.05 480.60 
L 535.73 480.60 
L 536.4 480.60 
L 537.08 480.60 
L 537.75 480.60 
L 538.42 480.60 
L 539.1 480.60 
L 539.77 480.60 
L 540 480.6 
L 540.45 480.6 
L 541.12 480.6 
L 541.8 480.6 
L 542.48 480.6 
L 543.15 480.6 
L 543.83 480.6 
L 544.5 480.6 
L 545.17 480.6 
L 545.85 480.6 
L 546.52 480.6 
L 547.2 480.6 
L 547.88 480.6 
L 548.55 480.6 
L 549.23 480.6 
L 549.9 480.6 
L 550.58 480.6 
L 551.25 480.6 
L 551.92 480.6 
L 552.6 480.6 
L 553.27 480.6 
L 553.95 480.6 
L 554.62 480.6 
L 555.3 480.6 
L 555.98 480.6 
L 556.65 480.6 
L 557.33 480.6 
L 558 480.6 
L 558.67 480.6 
L 559.35 480.6 
L 560.02 480.6 
L 560.7 480.6 
L 561.38 480.6 
L 562.05 480.6 
L 562.73 480.6 
L 563.4 480.6 
L 564.08 480.6 
L 564.75 480.6 
L 565.42 480.6 
L 566.1 480.6 
L 566.77 480.6 
L 567.45 480.6 
L 568.12 480.6 
L 568.8 480.6 
L 569.48 480.6 
L 570.15 480.6 
L 570.83 480.6 
L 571.5 480.6 
L 572.17 480.6 
L 572.85 480.6 
L 573.52 480.6 
L 574.2 480.6 
L 574.88 480.6 
L 575.55 480.6 
L 576.23 480.6 
L 576.9 480.6 
L 577.58 480.6 
L 578.25 480.6 
L 578.92 480.6 
L 579.6 480.6 
L 580.27 480.6 
L 580.95 480.6 
L 581.62 480.6 
L 582.3 480.6 
L 582.98 480.6 
L 583.65 480.6 
L 584.33 480.6 
L 585 480.6 
L 585.67 480.6 
L 586.35 480.6 
L 587.02 480.6 
L 587.7 480.6 
L 588.38 480.6 
L 589.05 480.6 
L 589.73 480.6 
L 590.4 480.6 
L 591.08 480.6 
L 591.75 480.6 
L 592.42 480.6 
L 593.1 480.6 
L 593.77 480.6 
L 594.45 480.6 
L 595.12 480.6 
L 595.8 480.6 
L 596.48 480.6 
L 597.15 480.6 
L 597.83 480.6 
L 598.5 480.6 
L 599.17 480.6 
L 599.85 480.6 
L 600.52 480.6 
L 601.2 480.6 
L 601.88 480.6 
L 602.55 480.6 
L 603.23 480.6 
L 603.9 480.6 
L 604.58 480.6 
L 605.25 480.6 
L 605.92 480.6 
L 606.6 480.6 
L 607.27 480.6 
L 607.95 480.6 
L 608.62 480.6 
L 609.3 480.6 
L 609.98 480.6 
L 610.65 480.6 
L 611.33 480.6 
L 612 480.6 
L 612.67 480.6 
L 613.35 480.6 
L 614.02 480.6 
L 614.7 480.6 
L 615.38 480.6 
L 616.05 480.6 
L 616.73 480.6 
L 617.4 480.6 
L 618.08 480.6 
L 618.75 480.6 
L 619.42 480.6 
L 620.1 480.6 
L 620.77 480.6 
L 621.45 480.6 
L 622.12 480.6 
L 622.8 480.6 
L 623.48 480.6 
L 624.15 480.6 
L 624.83 480.6 
L 625.5 480.6 
L 626.17 480.6 
L 626.85 480.6 
L 627.52 480.6 
L 628.2 480.6 
L 628.88 480.6 
L 629.55 480.6 
L 630 480.6 
L 630.23 480.6 
L 630.9 480.6 
L 631.58 480.6 
L 632.25 480.6 
L 632.92 480.6 
L 633.6 480.6 
L 634.27 480.6 
L 634.95 480.6 
L 635.62 480.6 
L 636.3 480.6 
L 636.98 480.6 
L 637.65 480.6 
L 638.33 480.6 
L 639 480.6 
L 639.67 480.6 
L 640.35 480.6 
L 641.02 480.6 
L 641.7 480.6 
L 642.38 480.6 
L 643.05 480.6 
L 643.73 480.6 
L 644.4 480.6 
L 645.08 480.6 
L 645.75 480.6 
L 646.42 480.6 
L 647.1 480.6 
L 647.77 480.6 
L 648.45 480.6 
L 649.12 480.6 
L 649.8 480.6 
L 650.48 480.6 
L 651.15 480.6 
L 651.83 480.6 
L 652.5 480.6 
L 653.17 480.6 
L 653.85 480.6 
L 654.52 480.6 
L 655.2 480.6 
L 655.88 480.6 
L 656.55 480.6 
L 657.23 480.6 
L 657.9 480.6 
L 658.58 480.6 
L 659.25 480.6 
L 659.92 480.6 
L 660.6 480.6 
L 661.27 480.6 
L 661.95 480.6 
L 662.62 480.6 
L 663.3 480.6 
L 663.98 480.6 
L 664.65 480.6 
L 665.33 480.6 
L 666 480.6 
" clip-path="url(#p638d60d095)" style="fill: none; stroke: #ff0000; stroke-width: 3; stroke-linecap: square"/>
   </g>
   <g id="patch_7">
    <path d="M 138.15 480.6 
L 138.15 64.8 
" style="fill: none; stroke: #000000; stroke-width: 0.8; stroke-linejoin: miter; stroke-linecap: square"/>
   </g>
   <g id="patch_8">
    <path d="M 663.39 480.6 
L 663.39 64.8 
" style="fill: none; stroke: #000000; stroke-width: 0.8; stroke-linejoin: miter; stroke-linecap: square"/>
   </g>
   <g id="patch_9">
    <path d="M 138.15 480.6 
L 663.39 480.6 
" style="fill: none; stroke: #000000; stroke-width: 0.8; stroke-linejoin: miter; stroke-linecap: square"/>
   </g>
   <g id="patch_10">
    <path d="M 138.15 64.8 
L 663.39 64.8 
" style="fill: none; stroke: #000000; stroke-width: 0.8; stroke-linejoin: miter; stroke-linecap: square"/>
   </g>
   <g id="legend_1">
    <g id="patch_11">
     <path d="M 350.62 170.09 
L 450.47 170.09 
Q 454.47 170.09 454.47 166.09 
L 454.47 78.8 
Q 454.47 74.8 450.47 74.8 
L 350.62 74.8 
Q 346.62 74.8 346.62 78.8 
L 346.62 166.09 
Q 346.62 170.09 350.62 170.09 
z
" style="fill: #ffffff; fill-opacity: 0.8; stroke: #cccccc; stroke-linejoin: miter"/>
    </g>
    <g id="line2d_18" transform="translate(-0.23 0.45)">
     <path d="M 355.07 91.10 
L 375.07 91.10 
L 395.07 91.10 
" style="fill: none; stroke: #00ff00; stroke-width: 3; stroke-linecap: square"/>
    </g>
    <g id="text_19">
     <g transform="translate(411.07 98.55)">
      <text>
       <tspan x="0" y="-0.42" style="font-style: oblique; font-size: 20px; font-family: 'DejaVu Sans', sans-serif">E</tspan>
       <tspan x="12.64" y="2.86" style="font-style: oblique; font-size: 14px; font-family: 'DejaVu Sans', sans-serif">x</tspan>
      </text>
     </g>
    </g>
    <g id="line2d_19" transform="translate(-0.23 0.68)">
     <path d="M 355.07 120.57 
L 375.07 120.57 
L 395.07 120.57 
" style="fill: none; stroke: #0000ff; stroke-width: 3; stroke-linecap: square"/>
    </g>
    <g id="text_20">
     <g transform="translate(411.52 128.92)">
      <text>
       <tspan x="0" y="-0.80" style="font-style: oblique; font-size: 20px; font-family: 'DejaVu Sans', sans-serif">n</tspan>
       <tspan x="12.68" y="2.48" style="font-style: oblique; font-size: 14px; font-family: 'DejaVu Sans', sans-serif">e</tspan>
      </text>
     </g>
    </g>
    <g id="line2d_20" transform="translate(-0.23 0.90)">
     <path d="M 355.07 150.03 
L 375.07 150.03 
L 395.07 150.03 
" style="fill: none; stroke: #ff0000; stroke-width: 3; stroke-linecap: square"/>
    </g>
    <g id="text_21">
     <g transform="translate(411.30 157.93)">
      <text>
       <tspan x="0" y="-0.42" style="font-style: oblique; font-size: 20px; font-family: 'DejaVu Sans', sans-serif">Z</tspan>
       <tspan x="18.14" y="-0.42" style="font-style: oblique; font-size: 20px; font-family: 'DejaVu Sans', sans-serif">n</tspan>
       <tspan x="13.70" y="2.86" style="font-style: oblique; font-size: 14px; font-family: 'DejaVu Sans', sans-serif">i</tspan>
       <tspan x="30.81" y="2.86" style="font-style: oblique; font-size: 14px; font-family: 'DejaVu Sans', sans-serif">i</tspan>
      </text>
     </g>
    </g>
   </g>
  </g>
  <g id="axes_3">
   <g id="patch_12">
    <path d="M 732.74 480.6 
L 753.93 480.6 
L 753.93 64.8 
L 732.74 64.8 
z
" style="fill: #ffffff"/>
   </g>
   <defs><linearGradient id="cbg" x1="0" y1="0" x2="0" y2="1"><stop offset="0.00" stop-color="#000000"/><stop offset="0.02" stop-color="#050205"/><stop offset="0.03" stop-color="#0b040c"/><stop offset="0.05" stop-color="#100713"/><stop offset="0.06" stop-color="#140a1b"/><stop offset="0.08" stop-color="#170e23"/><stop offset="0.09" stop-color="#19122b"/><stop offset="0.11" stop-color="#1a1733"/><stop offset="0.12" stop-color="#1b1c3a"/><stop offset="0.14" stop-color="#1a2240"/><stop offset="0.16" stop-color="#192845"/><stop offset="0.17" stop-color="#182f49"/><stop offset="0.19" stop-color="#17364c"/><stop offset="0.20" stop-color="#163d4e"/><stop offset="0.22" stop-color="#15444f"/><stop offset="0.23" stop-color="#154b4e"/><stop offset="0.25" stop-color="#15524c"/><stop offset="0.27" stop-color="#17584a"/><stop offset="0.28" stop-color="#195e47"/><stop offset="0.30" stop-color="#1d6443"/><stop offset="0.31" stop-color="#22693f"/><stop offset="0.33" stop-color="#286d3b"/><stop offset="0.34" stop-color="#2f7137"/><stop offset="0.36" stop-color="#387434"/><stop offset="0.38" stop-color="#417731"/><stop offset="0.39" stop-color="#4c792f"/><stop offset="0.41" stop-color="#577a2f"/><stop offset="0.42" stop-color="#637a2f"/><stop offset="0.44" stop-color="#6f7b31"/><stop offset="0.45" stop-color="#7b7a35"/><stop offset="0.47" stop-color="#877a3a"/><stop offset="0.48" stop-color="#937a40"/><stop offset="0.50" stop-color="#9f7948"/><stop offset="0.52" stop-color="#a97951"/><stop offset="0.53" stop-color="#b3795b"/><stop offset="0.55" stop-color="#bc7967"/><stop offset="0.56" stop-color="#c37a73"/><stop offset="0.58" stop-color="#c97b7f"/><stop offset="0.59" stop-color="#ce7d8c"/><stop offset="0.61" stop-color="#d18099"/><stop offset="0.62" stop-color="#d383a6"/><stop offset="0.64" stop-color="#d487b2"/><stop offset="0.66" stop-color="#d48cbe"/><stop offset="0.67" stop-color="#d391c9"/><stop offset="0.69" stop-color="#d297d2"/><stop offset="0.70" stop-color="#cf9ddb"/><stop offset="0.72" stop-color="#cca4e2"/><stop offset="0.73" stop-color="#caabe8"/><stop offset="0.75" stop-color="#c7b2ed"/><stop offset="0.77" stop-color="#c5baf0"/><stop offset="0.78" stop-color="#c3c1f2"/><stop offset="0.80" stop-color="#c2c8f3"/><stop offset="0.81" stop-color="#c1cff3"/><stop offset="0.83" stop-color="#c2d6f3"/><stop offset="0.84" stop-color="#c4dcf2"/><stop offset="0.86" stop-color="#c6e1f1"/><stop offset="0.88" stop-color="#cae7f0"/><stop offset="0.89" stop-color="#cfebef"/><stop offset="0.91" stop-color="#d4efef"/><stop offset="0.92" stop-color="#dbf3ef"/><stop offset="0.94" stop-color="#e2f6f0"/><stop offset="0.95" stop-color="#e9f8f2"/><stop offset="0.97" stop-color="#f0fbf5"/><stop offset="0.98" stop-color="#f8fdfa"/><stop offset="1.00" stop-color="#ffffff"/></linearGradient></defs><rect x="732.74" y="64.80" width="21.20" height="415.80" fill="url(#cbg)"/><g id="matplotlib.axis_4"/>
   <g id="matplotlib.axis_5">
    <g id="ytick_11">
     <g id="line2d_21">
      <defs>
       <path id="md960f7fc25" d="M 0 0 
L 3.5 0 
" style="stroke: #000000; stroke-width: 0.8"/>
      </defs>
      <g>
       <use href="#md960f7fc25" x="753.93" y="480.6" style="stroke: #000000; stroke-width: 0.8"/>
      </g>
     </g>
     <g id="text_22">
      <text style="font-size: 20px; font-family: 'DejaVu Sans', sans-serif; text-anchor: start" x="760.93" y="488.20" transform="rotate(-0 760.93 488.20)">0.0</text>
     </g>
    </g>
    <g id="ytick_12">
     <g id="line2d_22">
      <g>
       <use href="#md960f7fc25" x="753.93" y="397.44" style="stroke: #000000; stroke-width: 0.8"/>
      </g>
     </g>
     <g id="text_23">
      <text style="font-size: 20px; font-family: 'DejaVu Sans', sans-serif; text-anchor: start" x="760.93" y="405.04" transform="rotate(-0 760.93 405.04)">0.2</text>
     </g>
    </g>
    <g id="ytick_13">
     <g id="line2d_23">
      <g>
       <use href="#md960f7fc25" x="753.93" y="314.28" style="stroke: #000000; stroke-width: 0.8"/>
      </g>
     </g>
     <g id="text_24">
      <text style="font-size: 20px; font-family: 'DejaVu Sans', sans-serif; text-anchor: start" x="760.93" y="321.88" transform="rotate(-0 760.93 321.88)">0.4</text>
     </g>
    </g>
    <g id="ytick_14">
     <g id="line2d_24">
      <g>
       <use href="#md960f7fc25" x="753.93" y="231.12" style="stroke: #000000; stroke-width: 0.8"/>
      </g>
     </g>
     <g id="text_25">
      <text style="font-size: 20px; font-family: 'DejaVu Sans', sans-serif; text-anchor: start" x="760.93" y="238.72" transform="rotate(-0 760.93 238.72)">0.6</text>
     </g>
    </g>
    <g id="ytick_15">
     <g id="line2d_25">
      <g>
       <use href="#md960f7fc25" x="753.93" y="147.96" style="stroke: #000000; stroke-width: 0.8"/>
      </g>
     </g>
     <g id="text_26">
      <text style="font-size: 20px; font-family: 'DejaVu Sans', sans-serif; text-anchor: start" x="760.93" y="155.56" transform="rotate(-0 760.93 155.56)">0.8</text>
     </g>
    </g>
    <g id="ytick_16">
     <g id="line2d_26">
      <g>
       <use href="#md960f7fc25" x="753.93" y="64.8" style="stroke: #000000; stroke-width: 0.8"/>
      </g>
     </g>
     <g id="text_27">
      <text style="font-size: 20px; font-family: 'DejaVu Sans', sans-serif; text-anchor: start" x="760.93" y="72.40" transform="rotate(-0 760.93 72.40)">1.0</text>
     </g>
    </g>
    <g id="text_28">
     <g transform="translate(813.35 367.50) rotate(-90)">
      <text>
       <tspan x="0" y="-0.80" style="font-style: oblique; font-size: 20px; font-family: 'DejaVu Sans', sans-serif">d</tspan>
       <tspan x="12.70" y="-0.80" style="font-style: oblique; font-size: 20px; font-family: 'DejaVu Sans', sans-serif">N</tspan>
       <tspan x="42.20" y="-0.80" style="font-style: oblique; font-size: 20px; font-family: 'DejaVu Sans', sans-serif">d</tspan>
       <tspan x="54.89" y="-0.80" style="font-style: oblique; font-size: 20px; font-family: 'DejaVu Sans', sans-serif">x</tspan>
       <tspan x="66.73" y="-0.80" style="font-style: oblique; font-size: 20px; font-family: 'DejaVu Sans', sans-serif">d</tspan>
       <tspan x="79.42" y="-0.80" style="font-style: oblique; font-size: 20px; font-family: 'DejaVu Sans', sans-serif">p</tspan>
       <tspan x="27.66" y="-0.80" style="font-size: 20px; font-family: 'DejaVu Sans', sans-serif">/</tspan>
       <tspan x="34.39" y="-0.80" style="font-size: 20px; font-family: 'DejaVu Sans', sans-serif">(</tspan>
       <tspan x="100.95" y="-0.80" style="font-size: 20px; font-family: 'DejaVu Sans', sans-serif">)</tspan>
       <tspan x="92.12" y="2.48" style="font-style: oblique; font-size: 14px; font-family: 'DejaVu Sans', sans-serif">x</tspan>
       <tspan x="108.75" y="-0.80" style="font-size: 20px; font-family: 'DejaVu Sans Mono', monospace"> </tspan>
       <tspan x="120.79" y="-0.80" style="font-size: 20px; font-family: 'DejaVu Sans Mono', monospace">[</tspan>
       <tspan x="132.84" y="-0.80" style="font-size: 20px; font-family: 'DejaVu Sans Mono', monospace">A</tspan>
       <tspan x="144.88" y="-0.80" style="font-size: 20px; font-family: 'DejaVu Sans Mono', monospace">.</tspan>
       <tspan x="156.92" y="-0.80" style="font-size: 20px; font-family: 'DejaVu Sans Mono', monospace">U</tspan>
       <tspan x="168.96" y="-0.80" style="font-size: 20px; font-family: 'DejaVu Sans Mono', monospace">.</tspan>
       <tspan x="181" y="-0.80" style="font-size: 20px; font-family: 'DejaVu Sans Mono', monospace">]</tspan>
      </text>
     </g>
    </g>
   </g>
   <g id="LineCollection_1"/>
   <g id="patch_13">
    <path d="M 732.74 480.6 
L 743.33 480.6 
L 753.93 480.6 
L 753.93 64.8 
L 743.33 64.8 
L 732.74 64.8 
L 732.74 480.6 
z
" style="fill: none; stroke: #000000; stroke-width: 0.8; stroke-linejoin: miter; stroke-linecap: square"/>
   </g>
  </g>
 </g>
 <defs>
  <clipPath id="p638d60d095">
   <rect x="138.15" y="64.8" width="525.24" height="415.8"/>
  </clipPath>
 </defs>
</svg>

</body></html>
